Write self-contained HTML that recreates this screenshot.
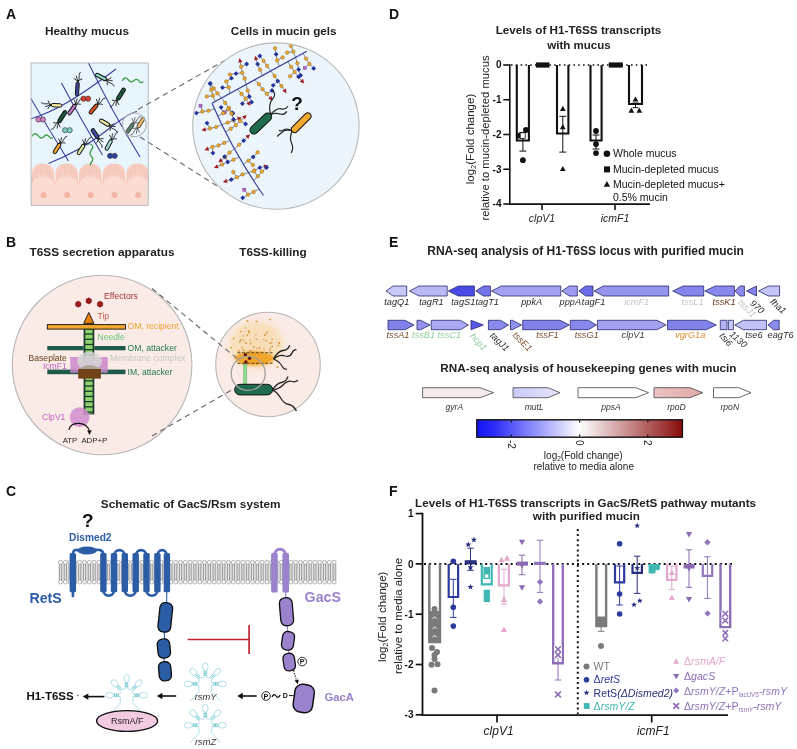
<!DOCTYPE html>
<html><head><meta charset="utf-8"><title>Figure</title>
<style>
html,body{margin:0;padding:0;background:#fff;}
svg{display:block;font-family:"Liberation Sans",sans-serif;filter:blur(0.45px);}
svg text{font-family:"Liberation Sans",sans-serif;}
</style></head>
<body>
<svg width="797" height="749" viewBox="0 0 797 749">
<rect x="0" y="0" width="797" height="749" fill="#ffffff"/>
<defs>
<linearGradient id="gbar" x1="0" x2="1" y1="0" y2="0"><stop offset="0" stop-color="#1515f5"/><stop offset="0.08" stop-color="#2a2af8"/><stop offset="0.5" stop-color="#ffffff"/><stop offset="1" stop-color="#8a0c0c"/></linearGradient>
<linearGradient id="gmut" x1="0" x2="1" y1="0" y2="0"><stop offset="0" stop-color="#c9c9f8"/><stop offset="1" stop-color="#e4e4fb"/></linearGradient>
<linearGradient id="grpo" x1="0" x2="1" y1="0" y2="0"><stop offset="0" stop-color="#ecc3c3"/><stop offset="1" stop-color="#e0a8a8"/></linearGradient>
</defs>
<text x="6" y="19" font-size="14" font-weight="bold" font-style="normal" fill="#111" text-anchor="start" >A</text>
<text x="6" y="247" font-size="14" font-weight="bold" font-style="normal" fill="#111" text-anchor="start" >B</text>
<text x="6" y="496" font-size="14" font-weight="bold" font-style="normal" fill="#111" text-anchor="start" >C</text>
<text x="389" y="19" font-size="14" font-weight="bold" font-style="normal" fill="#111" text-anchor="start" >D</text>
<text x="389" y="247" font-size="14" font-weight="bold" font-style="normal" fill="#111" text-anchor="start" >E</text>
<text x="389" y="496" font-size="14" font-weight="bold" font-style="normal" fill="#111" text-anchor="start" >F</text>
<g id="panel_a">
<text x="87" y="34.8" font-size="11.8" font-weight="bold" font-style="normal" fill="#222" text-anchor="middle" >Healthy mucus</text>
<text x="283.7" y="34.8" font-size="11.7" font-weight="bold" font-style="normal" fill="#222" text-anchor="middle" >Cells in mucin gels</text>
<clipPath id="cpA"><rect x="31" y="63" width="117.2" height="142.4"/></clipPath>
<rect x="31" y="63" width="117.2" height="142.4" fill="#e9f5fc" stroke="none" stroke-width="1" rx="0" />
<g clip-path="url(#cpA)"><rect x="31" y="176" width="117.2" height="30" fill="#fadcd2" stroke="none" stroke-width="1" rx="0" /><path d="M31.4,184 V176 Q31.4,163.4 43.0,163.4 Q54.6,163.4 54.6,176 V184 Z" fill="#f7d1c5"/><line x1="32.5" y1="173.6" x2="32.5" y2="184.6" stroke="#f0b9aa" stroke-width="0.55" /><line x1="34.6" y1="169.7" x2="34.6" y2="178.7" stroke="#f0b9aa" stroke-width="0.55" /><line x1="36.7" y1="166.9" x2="36.7" y2="177.9" stroke="#f0b9aa" stroke-width="0.55" /><line x1="38.8" y1="164.9" x2="38.8" y2="173.9" stroke="#f0b9aa" stroke-width="0.55" /><line x1="40.9" y1="163.9" x2="40.9" y2="174.9" stroke="#f0b9aa" stroke-width="0.55" /><line x1="43.0" y1="163.6" x2="43.0" y2="172.6" stroke="#f0b9aa" stroke-width="0.55" /><line x1="45.1" y1="163.9" x2="45.1" y2="174.9" stroke="#f0b9aa" stroke-width="0.55" /><line x1="47.2" y1="164.9" x2="47.2" y2="173.9" stroke="#f0b9aa" stroke-width="0.55" /><line x1="49.3" y1="166.9" x2="49.3" y2="177.9" stroke="#f0b9aa" stroke-width="0.55" /><line x1="51.4" y1="169.7" x2="51.4" y2="178.7" stroke="#f0b9aa" stroke-width="0.55" /><line x1="53.5" y1="173.6" x2="53.5" y2="184.6" stroke="#f0b9aa" stroke-width="0.55" /><path d="M31.2,187 V178 Q31.2,171 35.0,171 Q43.0,168 51.0,171 Q54.8,171 54.8,178 V187 Z" fill="#fadcd2" opacity="0.0"/><ellipse cx="43.0" cy="186" rx="11.3" ry="9.5" fill="#fadcd2" stroke="none" stroke-width="1" /><circle cx="43.5" cy="195" r="3" fill="#f3b6a6" stroke="none" stroke-width="1" /><path d="M55.050000000000004,184 V176 Q55.050000000000004,163.4 66.65,163.4 Q78.25,163.4 78.25,176 V184 Z" fill="#f7d1c5"/><line x1="56.2" y1="173.6" x2="56.2" y2="184.6" stroke="#f0b9aa" stroke-width="0.55" /><line x1="58.3" y1="169.7" x2="58.3" y2="178.7" stroke="#f0b9aa" stroke-width="0.55" /><line x1="60.4" y1="166.9" x2="60.4" y2="177.9" stroke="#f0b9aa" stroke-width="0.55" /><line x1="62.5" y1="164.9" x2="62.5" y2="173.9" stroke="#f0b9aa" stroke-width="0.55" /><line x1="64.6" y1="163.9" x2="64.6" y2="174.9" stroke="#f0b9aa" stroke-width="0.55" /><line x1="66.7" y1="163.6" x2="66.7" y2="172.6" stroke="#f0b9aa" stroke-width="0.55" /><line x1="68.8" y1="163.9" x2="68.8" y2="174.9" stroke="#f0b9aa" stroke-width="0.55" /><line x1="70.9" y1="164.9" x2="70.9" y2="173.9" stroke="#f0b9aa" stroke-width="0.55" /><line x1="73.0" y1="166.9" x2="73.0" y2="177.9" stroke="#f0b9aa" stroke-width="0.55" /><line x1="75.1" y1="169.7" x2="75.1" y2="178.7" stroke="#f0b9aa" stroke-width="0.55" /><line x1="77.2" y1="173.6" x2="77.2" y2="184.6" stroke="#f0b9aa" stroke-width="0.55" /><path d="M54.85000000000001,187 V178 Q54.85000000000001,171 58.650000000000006,171 Q66.65,168 74.65,171 Q78.45,171 78.45,178 V187 Z" fill="#fadcd2" opacity="0.0"/><ellipse cx="66.65" cy="186" rx="11.3" ry="9.5" fill="#fadcd2" stroke="none" stroke-width="1" /><circle cx="67.15" cy="195" r="3" fill="#f3b6a6" stroke="none" stroke-width="1" /><path d="M78.7,184 V176 Q78.7,163.4 90.3,163.4 Q101.89999999999999,163.4 101.89999999999999,176 V184 Z" fill="#f7d1c5"/><line x1="79.8" y1="173.6" x2="79.8" y2="184.6" stroke="#f0b9aa" stroke-width="0.55" /><line x1="81.9" y1="169.7" x2="81.9" y2="178.7" stroke="#f0b9aa" stroke-width="0.55" /><line x1="84.0" y1="166.9" x2="84.0" y2="177.9" stroke="#f0b9aa" stroke-width="0.55" /><line x1="86.1" y1="164.9" x2="86.1" y2="173.9" stroke="#f0b9aa" stroke-width="0.55" /><line x1="88.2" y1="163.9" x2="88.2" y2="174.9" stroke="#f0b9aa" stroke-width="0.55" /><line x1="90.3" y1="163.6" x2="90.3" y2="172.6" stroke="#f0b9aa" stroke-width="0.55" /><line x1="92.4" y1="163.9" x2="92.4" y2="174.9" stroke="#f0b9aa" stroke-width="0.55" /><line x1="94.5" y1="164.9" x2="94.5" y2="173.9" stroke="#f0b9aa" stroke-width="0.55" /><line x1="96.6" y1="166.9" x2="96.6" y2="177.9" stroke="#f0b9aa" stroke-width="0.55" /><line x1="98.7" y1="169.7" x2="98.7" y2="178.7" stroke="#f0b9aa" stroke-width="0.55" /><line x1="100.8" y1="173.6" x2="100.8" y2="184.6" stroke="#f0b9aa" stroke-width="0.55" /><path d="M78.5,187 V178 Q78.5,171 82.3,171 Q90.3,168 98.3,171 Q102.1,171 102.1,178 V187 Z" fill="#fadcd2" opacity="0.0"/><ellipse cx="90.3" cy="186" rx="11.3" ry="9.5" fill="#fadcd2" stroke="none" stroke-width="1" /><circle cx="90.8" cy="195" r="3" fill="#f3b6a6" stroke="none" stroke-width="1" /><path d="M102.35,184 V176 Q102.35,163.4 113.94999999999999,163.4 Q125.54999999999998,163.4 125.54999999999998,176 V184 Z" fill="#f7d1c5"/><line x1="103.4" y1="173.6" x2="103.4" y2="184.6" stroke="#f0b9aa" stroke-width="0.55" /><line x1="105.5" y1="169.7" x2="105.5" y2="178.7" stroke="#f0b9aa" stroke-width="0.55" /><line x1="107.6" y1="166.9" x2="107.6" y2="177.9" stroke="#f0b9aa" stroke-width="0.55" /><line x1="109.7" y1="164.9" x2="109.7" y2="173.9" stroke="#f0b9aa" stroke-width="0.55" /><line x1="111.8" y1="163.9" x2="111.8" y2="174.9" stroke="#f0b9aa" stroke-width="0.55" /><line x1="113.9" y1="163.6" x2="113.9" y2="172.6" stroke="#f0b9aa" stroke-width="0.55" /><line x1="116.0" y1="163.9" x2="116.0" y2="174.9" stroke="#f0b9aa" stroke-width="0.55" /><line x1="118.1" y1="164.9" x2="118.1" y2="173.9" stroke="#f0b9aa" stroke-width="0.55" /><line x1="120.2" y1="166.9" x2="120.2" y2="177.9" stroke="#f0b9aa" stroke-width="0.55" /><line x1="122.3" y1="169.7" x2="122.3" y2="178.7" stroke="#f0b9aa" stroke-width="0.55" /><line x1="124.4" y1="173.6" x2="124.4" y2="184.6" stroke="#f0b9aa" stroke-width="0.55" /><path d="M102.14999999999999,187 V178 Q102.14999999999999,171 105.94999999999999,171 Q113.94999999999999,168 121.94999999999999,171 Q125.74999999999999,171 125.74999999999999,178 V187 Z" fill="#fadcd2" opacity="0.0"/><ellipse cx="113.94999999999999" cy="186" rx="11.3" ry="9.5" fill="#fadcd2" stroke="none" stroke-width="1" /><circle cx="114.44999999999999" cy="195" r="3" fill="#f3b6a6" stroke="none" stroke-width="1" /><path d="M126.0,184 V176 Q126.0,163.4 137.6,163.4 Q149.2,163.4 149.2,176 V184 Z" fill="#f7d1c5"/><line x1="127.1" y1="173.6" x2="127.1" y2="184.6" stroke="#f0b9aa" stroke-width="0.55" /><line x1="129.2" y1="169.7" x2="129.2" y2="178.7" stroke="#f0b9aa" stroke-width="0.55" /><line x1="131.3" y1="166.9" x2="131.3" y2="177.9" stroke="#f0b9aa" stroke-width="0.55" /><line x1="133.4" y1="164.9" x2="133.4" y2="173.9" stroke="#f0b9aa" stroke-width="0.55" /><line x1="135.5" y1="163.9" x2="135.5" y2="174.9" stroke="#f0b9aa" stroke-width="0.55" /><line x1="137.6" y1="163.6" x2="137.6" y2="172.6" stroke="#f0b9aa" stroke-width="0.55" /><line x1="139.7" y1="163.9" x2="139.7" y2="174.9" stroke="#f0b9aa" stroke-width="0.55" /><line x1="141.8" y1="164.9" x2="141.8" y2="173.9" stroke="#f0b9aa" stroke-width="0.55" /><line x1="143.9" y1="166.9" x2="143.9" y2="177.9" stroke="#f0b9aa" stroke-width="0.55" /><line x1="146.0" y1="169.7" x2="146.0" y2="178.7" stroke="#f0b9aa" stroke-width="0.55" /><line x1="148.1" y1="173.6" x2="148.1" y2="184.6" stroke="#f0b9aa" stroke-width="0.55" /><path d="M125.8,187 V178 Q125.8,171 129.6,171 Q137.6,168 145.6,171 Q149.4,171 149.4,178 V187 Z" fill="#fadcd2" opacity="0.0"/><ellipse cx="137.6" cy="186" rx="11.3" ry="9.5" fill="#fadcd2" stroke="none" stroke-width="1" /><circle cx="138.1" cy="195" r="3" fill="#f3b6a6" stroke="none" stroke-width="1" /><line x1="54.85000000000001" y1="173" x2="54.85000000000001" y2="181" stroke="#fff" stroke-width="0.8" /><line x1="78.5" y1="173" x2="78.5" y2="181" stroke="#fff" stroke-width="0.8" /><line x1="102.14999999999999" y1="173" x2="102.14999999999999" y2="181" stroke="#fff" stroke-width="0.8" /><line x1="125.8" y1="173" x2="125.8" y2="181" stroke="#fff" stroke-width="0.8" /><path d="M30,119 C55,112 80,96 116,69" fill="none" stroke="#3b3f9e" stroke-width="1.1" /><path d="M88,62 Q110,108 140,157" fill="none" stroke="#3b3f9e" stroke-width="1.1" /><path d="M61.5,83 Q80,118 102.5,155" fill="none" stroke="#3b3f9e" stroke-width="1.1" /><path d="M30,97 Q48,128 68.5,161" fill="none" stroke="#3b3f9e" stroke-width="1.1" /><path d="M48.5,163.5 Q82,150 106,131 T137,111.5" fill="none" stroke="#3b3f9e" stroke-width="1.1" /><path d="M122.5,80.5 Q125,76 128,79.5 Q131,83.5 134,80.5 Q137,78 139,81 Q140.5,83.5 143,82 " fill="none" stroke="#3f9b46" stroke-width="1.3" stroke-linecap="round"/><path d="M32,136 Q35,131.5 38,135.5 Q41,140 44,136.5 Q46.5,133.5 49,136.5 Q50.5,139 52.5,138 " fill="none" stroke="#3f9b46" stroke-width="1.3" stroke-linecap="round"/><path d="M90.5,144 Q94.5,146.5 91.5,150 Q88.5,153.5 91.5,156.5 Q94,159 91.5,162 Q90,164 90.5,165 " fill="none" stroke="#3f9b46" stroke-width="1.3" stroke-linecap="round"/><path d="M77.8,82.0 Q76.4,79.3 73.8,78.3" fill="none" stroke="#111" stroke-width="0.85" /><path d="M77.8,82.0 Q79.6,79.6 82.3,78.9" fill="none" stroke="#111" stroke-width="0.85" /><path d="M77.8,82.0 Q77.3,78.5 76.1,75.7" fill="none" stroke="#111" stroke-width="0.85" /><path d="M77.8,82.0 Q79.7,79.4 79.1,76.7 Q78.6,74.0 80.6,71.9" fill="none" stroke="#111" stroke-width="0.85" /><rect x="70.30" y="87.40" width="14" height="3.2" rx="1.6" fill="#3b4a9c" stroke="#111" stroke-width="0.95" transform="rotate(-86 77.3 89)"/><path d="M106.3,79.8 Q109.3,79.6 111.4,77.7" fill="none" stroke="#111" stroke-width="0.85" /><path d="M106.3,79.8 Q107.8,82.4 107.3,85.2" fill="none" stroke="#111" stroke-width="0.85" /><path d="M106.3,79.8 Q109.7,80.8 112.7,80.8" fill="none" stroke="#111" stroke-width="0.85" /><path d="M106.3,79.8 Q107.9,82.6 110.6,83.2 Q113.3,83.8 114.4,86.5" fill="none" stroke="#111" stroke-width="0.85" /><rect x="95.00" y="75.30" width="12" height="3.4" rx="1.7" fill="#8fd6c2" stroke="#111" stroke-width="0.95" transform="rotate(28 101 77)"/><path d="M51.3,105.0 Q48.6,106.5 47.6,109.1" fill="none" stroke="#111" stroke-width="0.85" /><path d="M51.3,105.0 Q48.8,103.3 48.0,100.6" fill="none" stroke="#111" stroke-width="0.85" /><path d="M51.3,105.0 Q47.7,105.6 45.0,106.8" fill="none" stroke="#111" stroke-width="0.85" /><path d="M51.3,105.0 Q48.6,103.2 45.9,103.8 Q43.2,104.4 41.1,102.4" fill="none" stroke="#111" stroke-width="0.85" /><rect x="51.25" y="103.60" width="10.5" height="3.4" rx="1.7" fill="#f1e9a3" stroke="#111" stroke-width="0.95" transform="rotate(3 56.5 105.3)"/><path d="M75.4,104.7 Q75.6,101.7 73.9,99.4" fill="none" stroke="#111" stroke-width="0.85" /><path d="M75.4,104.7 Q78.2,103.5 80.9,104.3" fill="none" stroke="#111" stroke-width="0.85" /><path d="M75.4,104.7 Q76.8,101.4 77.2,98.4" fill="none" stroke="#111" stroke-width="0.85" /><path d="M75.4,104.7 Q78.4,103.4 79.3,100.8 Q80.2,98.2 83.1,97.5" fill="none" stroke="#111" stroke-width="0.85" /><rect x="66.00" y="107.90" width="12" height="3.4" rx="1.7" fill="#c07cc2" stroke="#111" stroke-width="0.95" transform="rotate(-55 72 109.6)"/><path d="M97.4,104.4 Q97.8,101.4 96.3,99.0" fill="none" stroke="#111" stroke-width="0.85" /><path d="M97.4,104.4 Q100.2,103.5 102.9,104.5" fill="none" stroke="#111" stroke-width="0.85" /><path d="M97.4,104.4 Q99.0,101.2 99.7,98.3" fill="none" stroke="#111" stroke-width="0.85" /><path d="M97.4,104.4 Q100.4,103.4 101.6,100.9 Q102.7,98.3 105.6,97.9" fill="none" stroke="#111" stroke-width="0.85" /><rect x="87.50" y="107.30" width="12" height="3.4" rx="1.7" fill="#d9561f" stroke="#111" stroke-width="0.95" transform="rotate(-50 93.5 109)"/><path d="M117.3,99.7 Q117.3,102.7 119.0,104.9" fill="none" stroke="#111" stroke-width="0.85" /><path d="M117.3,99.7 Q114.6,100.9 111.9,100.2" fill="none" stroke="#111" stroke-width="0.85" /><path d="M117.3,99.7 Q116.0,103.0 115.8,106.0" fill="none" stroke="#111" stroke-width="0.85" /><path d="M117.3,99.7 Q114.4,101.0 113.6,103.7 Q112.7,106.3 109.9,107.1" fill="none" stroke="#111" stroke-width="0.85" /><rect x="114.25" y="92.20" width="13.5" height="3.6" rx="1.8" fill="#1d5a3b" stroke="#111" stroke-width="0.95" transform="rotate(-57 121 94)"/><path d="M58.6,122.2 Q58.6,125.2 60.3,127.4" fill="none" stroke="#111" stroke-width="0.85" /><path d="M58.6,122.2 Q55.9,123.4 53.2,122.7" fill="none" stroke="#111" stroke-width="0.85" /><path d="M58.6,122.2 Q57.3,125.5 57.1,128.5" fill="none" stroke="#111" stroke-width="0.85" /><path d="M58.6,122.2 Q55.7,123.5 54.9,126.2 Q54.0,128.8 51.2,129.6" fill="none" stroke="#111" stroke-width="0.85" /><rect x="55.55" y="114.70" width="13.5" height="3.6" rx="1.8" fill="#1d5a3b" stroke="#111" stroke-width="0.95" transform="rotate(-57 62.3 116.5)"/><path d="M109.3,125.3 Q112.3,125.2 114.4,123.4" fill="none" stroke="#111" stroke-width="0.85" /><path d="M109.3,125.3 Q110.7,128.0 110.1,130.8" fill="none" stroke="#111" stroke-width="0.85" /><path d="M109.3,125.3 Q112.7,126.5 115.6,126.6" fill="none" stroke="#111" stroke-width="0.85" /><path d="M109.3,125.3 Q110.8,128.2 113.5,128.9 Q116.2,129.6 117.1,132.3" fill="none" stroke="#111" stroke-width="0.85" /><rect x="99.00" y="120.90" width="11" height="3.4" rx="1.7" fill="#f1e9a3" stroke="#111" stroke-width="0.95" transform="rotate(30 104.5 122.6)"/><path d="M98.1,138.1 Q100.8,139.3 103.6,138.5" fill="none" stroke="#111" stroke-width="0.85" /><path d="M98.1,138.1 Q98.2,141.1 96.4,143.3" fill="none" stroke="#111" stroke-width="0.85" /><path d="M98.1,138.1 Q100.6,140.5 103.3,142.0" fill="none" stroke="#111" stroke-width="0.85" /><path d="M98.1,138.1 Q98.2,141.3 100.3,143.1 Q102.4,144.9 102.1,147.8" fill="none" stroke="#111" stroke-width="0.85" /><rect x="89.50" y="131.70" width="11" height="3.6" rx="1.8" fill="#3b4a9c" stroke="#111" stroke-width="0.95" transform="rotate(56 95 133.5)"/><path d="M60.0,143.6 Q60.0,140.6 58.2,138.4" fill="none" stroke="#111" stroke-width="0.85" /><path d="M60.0,143.6 Q62.8,142.3 65.5,143.0" fill="none" stroke="#111" stroke-width="0.85" /><path d="M60.0,143.6 Q61.3,140.3 61.5,137.3" fill="none" stroke="#111" stroke-width="0.85" /><path d="M60.0,143.6 Q62.9,142.2 63.7,139.5 Q64.5,136.9 67.3,136.0" fill="none" stroke="#111" stroke-width="0.85" /><rect x="51.25" y="146.80" width="11.5" height="3.4" rx="1.7" fill="#f0a72e" stroke="#111" stroke-width="0.95" transform="rotate(-58 57 148.5)"/><path d="M84.0,144.6 Q84.0,141.6 82.2,139.4" fill="none" stroke="#111" stroke-width="0.85" /><path d="M84.0,144.6 Q86.8,143.3 89.5,144.0" fill="none" stroke="#111" stroke-width="0.85" /><path d="M84.0,144.6 Q85.3,141.3 85.5,138.3" fill="none" stroke="#111" stroke-width="0.85" /><path d="M84.0,144.6 Q86.9,143.2 87.7,140.5 Q88.5,137.9 91.3,137.0" fill="none" stroke="#111" stroke-width="0.85" /><rect x="75.25" y="147.80" width="11.5" height="3.4" rx="1.7" fill="#d9e0a2" stroke="#111" stroke-width="0.95" transform="rotate(-58 81 149.5)"/><path d="M111.4,139.9 Q111.2,136.9 109.2,134.9" fill="none" stroke="#111" stroke-width="0.85" /><path d="M111.4,139.9 Q114.0,138.4 116.8,138.9" fill="none" stroke="#111" stroke-width="0.85" /><path d="M111.4,139.9 Q112.4,136.5 112.4,133.5" fill="none" stroke="#111" stroke-width="0.85" /><path d="M111.4,139.9 Q114.2,138.3 114.8,135.6 Q115.4,132.9 118.1,131.8" fill="none" stroke="#111" stroke-width="0.85" /><rect x="102.95" y="143.30" width="11.5" height="3.4" rx="1.7" fill="#9fd9c8" stroke="#111" stroke-width="0.95" transform="rotate(-62 108.7 145)"/><path d="M133.3,123.5 Q133.5,120.5 131.8,118.2" fill="none" stroke="#111" stroke-width="0.85" /><path d="M133.3,123.5 Q136.1,122.3 138.8,123.1" fill="none" stroke="#111" stroke-width="0.85" /><path d="M133.3,123.5 Q134.7,120.2 135.1,117.2" fill="none" stroke="#111" stroke-width="0.85" /><path d="M133.3,123.5 Q136.3,122.2 137.2,119.6 Q138.1,117.0 140.9,116.3" fill="none" stroke="#111" stroke-width="0.85" /><rect x="124.25" y="126.50" width="11.5" height="3.4" rx="1.7" fill="#1d5a3b" stroke="#111" stroke-width="0.95" transform="rotate(-55 130 128.2)"/><path d="M137.8,127.5 Q137.8,130.5 139.6,132.7" fill="none" stroke="#111" stroke-width="0.85" /><path d="M137.8,127.5 Q135.0,128.8 132.3,128.1" fill="none" stroke="#111" stroke-width="0.85" /><path d="M137.8,127.5 Q136.5,130.8 136.3,133.8" fill="none" stroke="#111" stroke-width="0.85" /><path d="M137.8,127.5 Q134.9,128.9 134.1,131.6 Q133.3,134.2 130.5,135.1" fill="none" stroke="#111" stroke-width="0.85" /><rect x="135.05" y="121.00" width="11.5" height="3.2" rx="1.6" fill="#f0a72e" stroke="#111" stroke-width="0.95" transform="rotate(-58 140.8 122.6)"/><circle cx="83.5" cy="98.7" r="2.6" fill="#d0402f" stroke="#333" stroke-width="0.6" /><circle cx="88.1" cy="98.7" r="2.6" fill="#d0402f" stroke="#333" stroke-width="0.6" /><circle cx="38.4" cy="119.5" r="2.6" fill="#d27fc3" stroke="#333" stroke-width="0.6" /><circle cx="43.00000000000001" cy="119.5" r="2.6" fill="#d27fc3" stroke="#333" stroke-width="0.6" /><circle cx="65.10000000000001" cy="130.2" r="2.6" fill="#7fd0c8" stroke="#333" stroke-width="0.6" /><circle cx="69.7" cy="130.2" r="2.6" fill="#7fd0c8" stroke="#333" stroke-width="0.6" /><circle cx="110.10000000000001" cy="155.8" r="2.6" fill="#3040a0" stroke="#333" stroke-width="0.6" /><circle cx="114.7" cy="155.8" r="2.6" fill="#3040a0" stroke="#333" stroke-width="0.6" /></g>
<rect x="31" y="63" width="117.2" height="142.4" fill="none" stroke="#b4bcc0" stroke-width="1" rx="0" />
<circle cx="134.3" cy="124.8" r="11.8" fill="rgba(255,255,255,0.25)" stroke="#b3b3b3" stroke-width="1.1" />
<line x1="138" y1="109.5" x2="243" y2="50.3" stroke="#666" stroke-width="1.1" stroke-dasharray="5.5 4"/>
<line x1="140" y1="137" x2="226" y2="191.7" stroke="#666" stroke-width="1.1" stroke-dasharray="5.5 4"/>
<circle cx="275.9" cy="126.1" r="83.2" fill="#ebf5fb" stroke="#b9b9b9" stroke-width="1.1" />
<clipPath id="cpA2"><circle cx="275.9" cy="126.1" r="82.6"/></clipPath>
<g clip-path="url(#cpA2)"><line x1="214.8" y1="101.6" x2="213.0" y2="95.7" stroke="#333" stroke-width="0.55" /><line x1="213.0" y1="95.7" x2="206.8" y2="96.5" stroke="#333" stroke-width="0.55" /><line x1="213.0" y1="95.7" x2="211.3" y2="89.8" stroke="#333" stroke-width="0.55" /><line x1="211.3" y1="89.8" x2="210.1" y2="83.7" stroke="#333" stroke-width="0.55" /><line x1="221.5" y1="98.0" x2="225.2" y2="102.9" stroke="#333" stroke-width="0.55" /><line x1="225.2" y1="102.9" x2="228.9" y2="107.9" stroke="#333" stroke-width="0.55" /><line x1="228.9" y1="107.9" x2="224.7" y2="112.4" stroke="#333" stroke-width="0.55" /><line x1="228.9" y1="107.9" x2="232.5" y2="113.0" stroke="#333" stroke-width="0.55" /><line x1="221.5" y1="98.0" x2="217.4" y2="93.3" stroke="#333" stroke-width="0.55" /><line x1="217.4" y1="93.3" x2="213.7" y2="88.4" stroke="#333" stroke-width="0.55" /><line x1="213.7" y1="88.4" x2="210.2" y2="83.3" stroke="#333" stroke-width="0.55" /><line x1="230.0" y1="93.3" x2="228.7" y2="87.3" stroke="#333" stroke-width="0.55" /><line x1="228.7" y1="87.3" x2="222.5" y2="87.6" stroke="#333" stroke-width="0.55" /><line x1="228.7" y1="87.3" x2="226.3" y2="81.5" stroke="#333" stroke-width="0.55" /><line x1="226.3" y1="81.5" x2="231.5" y2="78.2" stroke="#333" stroke-width="0.55" /><line x1="237.6" y1="89.2" x2="241.5" y2="93.9" stroke="#333" stroke-width="0.55" /><line x1="241.5" y1="93.9" x2="245.7" y2="98.5" stroke="#333" stroke-width="0.55" /><line x1="245.7" y1="98.5" x2="242.4" y2="103.7" stroke="#333" stroke-width="0.55" /><line x1="245.7" y1="98.5" x2="249.0" y2="103.8" stroke="#333" stroke-width="0.55" /><line x1="246.1" y1="84.5" x2="244.6" y2="78.5" stroke="#333" stroke-width="0.55" /><line x1="244.6" y1="78.5" x2="242.2" y2="72.8" stroke="#333" stroke-width="0.55" /><line x1="242.2" y1="72.8" x2="236.0" y2="73.6" stroke="#333" stroke-width="0.55" /><line x1="236.0" y1="73.6" x2="229.9" y2="74.5" stroke="#333" stroke-width="0.55" /><line x1="242.2" y1="72.8" x2="241.1" y2="66.7" stroke="#333" stroke-width="0.55" /><line x1="241.1" y1="66.7" x2="246.7" y2="64.0" stroke="#333" stroke-width="0.55" /><line x1="241.1" y1="66.7" x2="240.0" y2="60.6" stroke="#333" stroke-width="0.55" /><line x1="246.1" y1="84.5" x2="247.7" y2="90.5" stroke="#333" stroke-width="0.55" /><line x1="247.7" y1="90.5" x2="249.3" y2="96.5" stroke="#333" stroke-width="0.55" /><line x1="249.3" y1="96.5" x2="251.6" y2="102.2" stroke="#333" stroke-width="0.55" /><line x1="254.7" y1="79.8" x2="258.9" y2="84.3" stroke="#333" stroke-width="0.55" /><line x1="258.9" y1="84.3" x2="262.6" y2="89.3" stroke="#333" stroke-width="0.55" /><line x1="262.6" y1="89.3" x2="266.8" y2="93.8" stroke="#333" stroke-width="0.55" /><line x1="266.8" y1="93.8" x2="272.0" y2="90.5" stroke="#333" stroke-width="0.55" /><line x1="266.8" y1="93.8" x2="270.9" y2="98.5" stroke="#333" stroke-width="0.55" /><line x1="262.2" y1="75.6" x2="260.1" y2="69.8" stroke="#333" stroke-width="0.55" /><line x1="260.1" y1="69.8" x2="257.6" y2="64.1" stroke="#333" stroke-width="0.55" /><line x1="257.6" y1="64.1" x2="255.8" y2="58.2" stroke="#333" stroke-width="0.55" /><line x1="270.8" y1="71.0" x2="274.6" y2="75.9" stroke="#333" stroke-width="0.55" /><line x1="274.6" y1="75.9" x2="277.8" y2="81.1" stroke="#333" stroke-width="0.55" /><line x1="277.8" y1="81.1" x2="273.2" y2="85.3" stroke="#333" stroke-width="0.55" /><line x1="277.8" y1="81.1" x2="281.5" y2="86.1" stroke="#333" stroke-width="0.55" /><line x1="281.5" y1="86.1" x2="285.1" y2="91.2" stroke="#333" stroke-width="0.55" /><line x1="270.8" y1="71.0" x2="267.1" y2="66.0" stroke="#333" stroke-width="0.55" /><line x1="267.1" y1="66.0" x2="263.6" y2="60.9" stroke="#333" stroke-width="0.55" /><line x1="263.6" y1="60.9" x2="259.8" y2="56.0" stroke="#333" stroke-width="0.55" /><line x1="279.3" y1="66.3" x2="277.2" y2="60.4" stroke="#333" stroke-width="0.55" /><line x1="277.2" y1="60.4" x2="282.6" y2="57.4" stroke="#333" stroke-width="0.55" /><line x1="277.2" y1="60.4" x2="276.1" y2="54.3" stroke="#333" stroke-width="0.55" /><line x1="276.1" y1="54.3" x2="275.1" y2="48.2" stroke="#333" stroke-width="0.55" /><line x1="287.8" y1="61.6" x2="291.1" y2="66.9" stroke="#333" stroke-width="0.55" /><line x1="291.1" y1="66.9" x2="294.6" y2="72.0" stroke="#333" stroke-width="0.55" /><line x1="294.6" y1="72.0" x2="290.1" y2="76.3" stroke="#333" stroke-width="0.55" /><line x1="294.6" y1="72.0" x2="298.5" y2="76.8" stroke="#333" stroke-width="0.55" /><line x1="298.5" y1="76.8" x2="302.5" y2="81.5" stroke="#333" stroke-width="0.55" /><line x1="295.4" y1="57.4" x2="293.3" y2="51.6" stroke="#333" stroke-width="0.55" /><line x1="293.3" y1="51.6" x2="287.2" y2="52.6" stroke="#333" stroke-width="0.55" /><line x1="293.3" y1="51.6" x2="290.9" y2="45.9" stroke="#333" stroke-width="0.55" /><line x1="290.9" y1="45.9" x2="289.5" y2="39.8" stroke="#333" stroke-width="0.55" /><line x1="295.4" y1="57.4" x2="297.4" y2="63.3" stroke="#333" stroke-width="0.55" /><line x1="297.4" y1="63.3" x2="298.6" y2="69.4" stroke="#333" stroke-width="0.55" /><line x1="298.6" y1="69.4" x2="300.6" y2="75.3" stroke="#333" stroke-width="0.55" /><line x1="303.0" y1="53.3" x2="306.1" y2="58.6" stroke="#333" stroke-width="0.55" /><line x1="306.1" y1="58.6" x2="309.4" y2="63.9" stroke="#333" stroke-width="0.55" /><line x1="309.4" y1="63.9" x2="304.8" y2="68.0" stroke="#333" stroke-width="0.55" /><line x1="309.4" y1="63.9" x2="313.7" y2="68.4" stroke="#333" stroke-width="0.55" /><line x1="214.4" y1="108.8" x2="208.5" y2="110.7" stroke="#333" stroke-width="0.55" /><line x1="208.5" y1="110.7" x2="202.4" y2="111.6" stroke="#333" stroke-width="0.55" /><line x1="202.4" y1="111.6" x2="200.5" y2="105.7" stroke="#333" stroke-width="0.55" /><line x1="202.4" y1="111.6" x2="196.4" y2="113.1" stroke="#333" stroke-width="0.55" /><line x1="217.8" y1="116.3" x2="223.2" y2="113.2" stroke="#333" stroke-width="0.55" /><line x1="223.2" y1="113.2" x2="221.1" y2="107.3" stroke="#333" stroke-width="0.55" /><line x1="223.2" y1="113.2" x2="228.1" y2="109.3" stroke="#333" stroke-width="0.55" /><line x1="228.1" y1="109.3" x2="232.7" y2="113.4" stroke="#333" stroke-width="0.55" /><line x1="221.8" y1="124.7" x2="216.1" y2="127.0" stroke="#333" stroke-width="0.55" /><line x1="216.1" y1="127.0" x2="210.0" y2="128.5" stroke="#333" stroke-width="0.55" /><line x1="210.0" y1="128.5" x2="207.0" y2="123.1" stroke="#333" stroke-width="0.55" /><line x1="210.0" y1="128.5" x2="204.0" y2="129.8" stroke="#333" stroke-width="0.55" /><line x1="221.8" y1="124.7" x2="227.7" y2="122.6" stroke="#333" stroke-width="0.55" /><line x1="227.7" y1="122.6" x2="233.4" y2="120.3" stroke="#333" stroke-width="0.55" /><line x1="233.4" y1="120.3" x2="239.3" y2="118.4" stroke="#333" stroke-width="0.55" /><line x1="225.5" y1="132.1" x2="230.7" y2="128.8" stroke="#333" stroke-width="0.55" /><line x1="230.7" y1="128.8" x2="235.8" y2="125.2" stroke="#333" stroke-width="0.55" /><line x1="235.8" y1="125.2" x2="233.6" y2="119.4" stroke="#333" stroke-width="0.55" /><line x1="233.6" y1="119.4" x2="231.5" y2="113.6" stroke="#333" stroke-width="0.55" /><line x1="235.8" y1="125.2" x2="240.2" y2="120.9" stroke="#333" stroke-width="0.55" /><line x1="240.2" y1="120.9" x2="245.6" y2="124.0" stroke="#333" stroke-width="0.55" /><line x1="240.2" y1="120.9" x2="244.8" y2="116.7" stroke="#333" stroke-width="0.55" /><line x1="229.8" y1="140.4" x2="224.2" y2="142.9" stroke="#333" stroke-width="0.55" /><line x1="224.2" y1="142.9" x2="218.5" y2="145.4" stroke="#333" stroke-width="0.55" /><line x1="218.5" y1="145.4" x2="212.5" y2="146.9" stroke="#333" stroke-width="0.55" /><line x1="212.5" y1="146.9" x2="212.9" y2="153.1" stroke="#333" stroke-width="0.55" /><line x1="212.5" y1="146.9" x2="206.8" y2="149.3" stroke="#333" stroke-width="0.55" /><line x1="234.4" y1="148.8" x2="239.1" y2="144.7" stroke="#333" stroke-width="0.55" /><line x1="239.1" y1="144.7" x2="243.7" y2="140.6" stroke="#333" stroke-width="0.55" /><line x1="243.7" y1="140.6" x2="248.1" y2="136.2" stroke="#333" stroke-width="0.55" /><line x1="234.4" y1="148.8" x2="229.5" y2="152.6" stroke="#333" stroke-width="0.55" /><line x1="229.5" y1="152.6" x2="225.2" y2="157.0" stroke="#333" stroke-width="0.55" /><line x1="225.2" y1="157.0" x2="220.4" y2="160.9" stroke="#333" stroke-width="0.55" /><line x1="239.1" y1="157.1" x2="233.5" y2="159.7" stroke="#333" stroke-width="0.55" /><line x1="233.5" y1="159.7" x2="227.7" y2="162.0" stroke="#333" stroke-width="0.55" /><line x1="227.7" y1="162.0" x2="224.5" y2="156.7" stroke="#333" stroke-width="0.55" /><line x1="227.7" y1="162.0" x2="222.0" y2="164.5" stroke="#333" stroke-width="0.55" /><line x1="222.0" y1="164.5" x2="216.3" y2="166.9" stroke="#333" stroke-width="0.55" /><line x1="243.4" y1="164.4" x2="248.4" y2="160.7" stroke="#333" stroke-width="0.55" /><line x1="248.4" y1="160.7" x2="252.9" y2="165.0" stroke="#333" stroke-width="0.55" /><line x1="248.4" y1="160.7" x2="253.2" y2="156.9" stroke="#333" stroke-width="0.55" /><line x1="253.2" y1="156.9" x2="257.6" y2="152.4" stroke="#333" stroke-width="0.55" /><line x1="248.5" y1="172.7" x2="242.5" y2="174.4" stroke="#333" stroke-width="0.55" /><line x1="242.5" y1="174.4" x2="237.0" y2="177.2" stroke="#333" stroke-width="0.55" /><line x1="237.0" y1="177.2" x2="233.3" y2="172.1" stroke="#333" stroke-width="0.55" /><line x1="237.0" y1="177.2" x2="231.3" y2="179.6" stroke="#333" stroke-width="0.55" /><line x1="231.3" y1="179.6" x2="225.3" y2="181.4" stroke="#333" stroke-width="0.55" /><line x1="248.5" y1="172.7" x2="254.3" y2="170.5" stroke="#333" stroke-width="0.55" /><line x1="254.3" y1="170.5" x2="259.8" y2="167.7" stroke="#333" stroke-width="0.55" /><line x1="259.8" y1="167.7" x2="265.8" y2="166.1" stroke="#333" stroke-width="0.55" /><line x1="253.7" y1="180.9" x2="257.8" y2="176.2" stroke="#333" stroke-width="0.55" /><line x1="257.8" y1="176.2" x2="253.9" y2="171.4" stroke="#333" stroke-width="0.55" /><line x1="257.8" y1="176.2" x2="261.9" y2="171.6" stroke="#333" stroke-width="0.55" /><line x1="261.9" y1="171.6" x2="266.6" y2="167.5" stroke="#333" stroke-width="0.55" /><line x1="259.1" y1="189.1" x2="253.6" y2="191.9" stroke="#333" stroke-width="0.55" /><line x1="253.6" y1="191.9" x2="248.1" y2="194.7" stroke="#333" stroke-width="0.55" /><line x1="248.1" y1="194.7" x2="244.3" y2="189.7" stroke="#333" stroke-width="0.55" /><line x1="248.1" y1="194.7" x2="242.7" y2="197.8" stroke="#333" stroke-width="0.55" /><circle cx="213.0" cy="95.7" r="1.8" fill="#f0a62c" stroke="#6b4e0e" stroke-width="0.35" /><circle cx="206.8" cy="96.5" r="1.8" fill="#f0a62c" stroke="#6b4e0e" stroke-width="0.35" /><circle cx="211.3" cy="89.8" r="1.8" fill="#f0a62c" stroke="#6b4e0e" stroke-width="0.35" /><rect x="208.4" y="82.0" width="3.4" height="3.4" fill="#26339a" transform="rotate(45 210.1 83.7)"/><circle cx="225.2" cy="102.9" r="1.8" fill="#f0a62c" stroke="#6b4e0e" stroke-width="0.35" /><circle cx="228.9" cy="107.9" r="1.8" fill="#f0a62c" stroke="#6b4e0e" stroke-width="0.35" /><rect x="223.1" y="110.8" width="3.2" height="3.2" fill="#b565c4" stroke="#5a2a6a" stroke-width="0.3"/><rect x="230.8" y="111.3" width="3.4" height="3.4" fill="#26339a" transform="rotate(45 232.5 113.0)"/><circle cx="217.4" cy="93.3" r="1.8" fill="#f0a62c" stroke="#6b4e0e" stroke-width="0.35" /><circle cx="213.7" cy="88.4" r="1.8" fill="#f0a62c" stroke="#6b4e0e" stroke-width="0.35" /><rect x="208.5" y="81.6" width="3.4" height="3.4" fill="#26339a" transform="rotate(45 210.2 83.3)"/><circle cx="228.7" cy="87.3" r="1.8" fill="#f0a62c" stroke="#6b4e0e" stroke-width="0.35" /><rect x="220.8" y="85.9" width="3.4" height="3.4" fill="#26339a" transform="rotate(45 222.5 87.6)"/><circle cx="226.3" cy="81.5" r="1.8" fill="#f0a62c" stroke="#6b4e0e" stroke-width="0.35" /><rect x="229.8" y="76.5" width="3.4" height="3.4" fill="#26339a" transform="rotate(45 231.5 78.2)"/><circle cx="241.5" cy="93.9" r="1.8" fill="#f0a62c" stroke="#6b4e0e" stroke-width="0.35" /><circle cx="245.7" cy="98.5" r="1.8" fill="#f0a62c" stroke="#6b4e0e" stroke-width="0.35" /><rect x="240.7" y="102.0" width="3.4" height="3.4" fill="#26339a" transform="rotate(45 242.4 103.7)"/><polygon points="0,-2.6 2.2,1.7 -2.2,1.7" fill="#a31f24" transform="translate(249.0 103.8) rotate(148)"/><circle cx="244.6" cy="78.5" r="1.8" fill="#f0a62c" stroke="#6b4e0e" stroke-width="0.35" /><circle cx="242.2" cy="72.8" r="1.8" fill="#f0a62c" stroke="#6b4e0e" stroke-width="0.35" /><rect x="234.3" y="71.9" width="3.4" height="3.4" fill="#26339a" transform="rotate(45 236.0 73.6)"/><circle cx="229.9" cy="74.5" r="1.8" fill="#f0a62c" stroke="#6b4e0e" stroke-width="0.35" /><circle cx="241.1" cy="66.7" r="1.8" fill="#f0a62c" stroke="#6b4e0e" stroke-width="0.35" /><rect x="245.0" y="62.3" width="3.4" height="3.4" fill="#26339a" transform="rotate(45 246.7 64.0)"/><polygon points="0,-2.6 2.2,1.7 -2.2,1.7" fill="#a31f24" transform="translate(240.0 60.6) rotate(-10)"/><circle cx="247.7" cy="90.5" r="1.8" fill="#f0a62c" stroke="#6b4e0e" stroke-width="0.35" /><rect x="247.6" y="94.8" width="3.4" height="3.4" fill="#26339a" transform="rotate(45 249.3 96.5)"/><rect x="249.9" y="100.5" width="3.4" height="3.4" fill="#26339a" transform="rotate(45 251.6 102.2)"/><circle cx="258.9" cy="84.3" r="1.8" fill="#f0a62c" stroke="#6b4e0e" stroke-width="0.35" /><circle cx="262.6" cy="89.3" r="1.8" fill="#f0a62c" stroke="#6b4e0e" stroke-width="0.35" /><circle cx="266.8" cy="93.8" r="1.8" fill="#f0a62c" stroke="#6b4e0e" stroke-width="0.35" /><rect x="270.3" y="88.8" width="3.4" height="3.4" fill="#26339a" transform="rotate(45 272.0 90.5)"/><polygon points="0,-2.6 2.2,1.7 -2.2,1.7" fill="#a31f24" transform="translate(270.9 98.5) rotate(139)"/><circle cx="260.1" cy="69.8" r="1.8" fill="#f0a62c" stroke="#6b4e0e" stroke-width="0.35" /><rect x="255.9" y="62.4" width="3.4" height="3.4" fill="#26339a" transform="rotate(45 257.6 64.1)"/><polygon points="0,-2.6 2.2,1.7 -2.2,1.7" fill="#a31f24" transform="translate(255.8 58.2) rotate(-17)"/><circle cx="274.6" cy="75.9" r="1.8" fill="#f0a62c" stroke="#6b4e0e" stroke-width="0.35" /><rect x="276.1" y="79.4" width="3.4" height="3.4" fill="#26339a" transform="rotate(45 277.8 81.1)"/><rect x="271.5" y="83.6" width="3.4" height="3.4" fill="#26339a" transform="rotate(45 273.2 85.3)"/><circle cx="281.5" cy="86.1" r="1.8" fill="#f0a62c" stroke="#6b4e0e" stroke-width="0.35" /><polygon points="0,-2.6 2.2,1.7 -2.2,1.7" fill="#a31f24" transform="translate(285.1 91.2) rotate(145)"/><circle cx="267.1" cy="66.0" r="1.8" fill="#f0a62c" stroke="#6b4e0e" stroke-width="0.35" /><circle cx="263.6" cy="60.9" r="1.8" fill="#f0a62c" stroke="#6b4e0e" stroke-width="0.35" /><rect x="258.1" y="54.3" width="3.4" height="3.4" fill="#26339a" transform="rotate(45 259.8 56.0)"/><circle cx="277.2" cy="60.4" r="1.8" fill="#f0a62c" stroke="#6b4e0e" stroke-width="0.35" /><circle cx="282.6" cy="57.4" r="1.8" fill="#f0a62c" stroke="#6b4e0e" stroke-width="0.35" /><rect x="274.4" y="52.6" width="3.4" height="3.4" fill="#26339a" transform="rotate(45 276.1 54.3)"/><circle cx="275.1" cy="48.2" r="1.8" fill="#f0a62c" stroke="#6b4e0e" stroke-width="0.35" /><circle cx="291.1" cy="66.9" r="1.8" fill="#f0a62c" stroke="#6b4e0e" stroke-width="0.35" /><circle cx="294.6" cy="72.0" r="1.8" fill="#f0a62c" stroke="#6b4e0e" stroke-width="0.35" /><circle cx="290.1" cy="76.3" r="1.8" fill="#f0a62c" stroke="#6b4e0e" stroke-width="0.35" /><rect x="296.8" y="75.1" width="3.4" height="3.4" fill="#26339a" transform="rotate(45 298.5 76.8)"/><polygon points="0,-2.6 2.2,1.7 -2.2,1.7" fill="#a31f24" transform="translate(302.5 81.5) rotate(139)"/><circle cx="293.3" cy="51.6" r="1.8" fill="#f0a62c" stroke="#6b4e0e" stroke-width="0.35" /><circle cx="287.2" cy="52.6" r="1.8" fill="#f0a62c" stroke="#6b4e0e" stroke-width="0.35" /><circle cx="290.9" cy="45.9" r="1.8" fill="#f0a62c" stroke="#6b4e0e" stroke-width="0.35" /><rect x="287.8" y="38.1" width="3.4" height="3.4" fill="#26339a" transform="rotate(45 289.5 39.8)"/><circle cx="297.4" cy="63.3" r="1.8" fill="#f0a62c" stroke="#6b4e0e" stroke-width="0.35" /><rect x="296.9" y="67.7" width="3.4" height="3.4" fill="#26339a" transform="rotate(45 298.6 69.4)"/><rect x="298.9" y="73.6" width="3.4" height="3.4" fill="#26339a" transform="rotate(45 300.6 75.3)"/><circle cx="306.1" cy="58.6" r="1.8" fill="#f0a62c" stroke="#6b4e0e" stroke-width="0.35" /><circle cx="309.4" cy="63.9" r="1.8" fill="#f0a62c" stroke="#6b4e0e" stroke-width="0.35" /><rect x="303.2" y="66.4" width="3.2" height="3.2" fill="#b565c4" stroke="#5a2a6a" stroke-width="0.3"/><rect x="312.0" y="66.7" width="3.4" height="3.4" fill="#26339a" transform="rotate(45 313.7 68.4)"/><circle cx="208.5" cy="110.7" r="1.8" fill="#f0a62c" stroke="#6b4e0e" stroke-width="0.35" /><circle cx="202.4" cy="111.6" r="1.8" fill="#f0a62c" stroke="#6b4e0e" stroke-width="0.35" /><rect x="198.9" y="104.1" width="3.2" height="3.2" fill="#b565c4" stroke="#5a2a6a" stroke-width="0.3"/><rect x="194.7" y="111.4" width="3.4" height="3.4" fill="#26339a" transform="rotate(45 196.4 113.1)"/><circle cx="223.2" cy="113.2" r="1.8" fill="#f0a62c" stroke="#6b4e0e" stroke-width="0.35" /><rect x="219.4" y="105.6" width="3.4" height="3.4" fill="#26339a" transform="rotate(45 221.1 107.3)"/><circle cx="228.1" cy="109.3" r="1.8" fill="#f0a62c" stroke="#6b4e0e" stroke-width="0.35" /><rect x="231.0" y="111.7" width="3.4" height="3.4" fill="#26339a" transform="rotate(45 232.7 113.4)"/><circle cx="216.1" cy="127.0" r="1.8" fill="#f0a62c" stroke="#6b4e0e" stroke-width="0.35" /><circle cx="210.0" cy="128.5" r="1.8" fill="#f0a62c" stroke="#6b4e0e" stroke-width="0.35" /><rect x="205.3" y="121.4" width="3.4" height="3.4" fill="#26339a" transform="rotate(45 207.0 123.1)"/><polygon points="0,-2.6 2.2,1.7 -2.2,1.7" fill="#a31f24" transform="translate(204.0 129.8) rotate(258)"/><circle cx="227.7" cy="122.6" r="1.8" fill="#f0a62c" stroke="#6b4e0e" stroke-width="0.35" /><circle cx="233.4" cy="120.3" r="1.8" fill="#f0a62c" stroke="#6b4e0e" stroke-width="0.35" /><polygon points="0,-2.6 2.2,1.7 -2.2,1.7" fill="#a31f24" transform="translate(239.3 118.4) rotate(432)"/><circle cx="230.7" cy="128.8" r="1.8" fill="#f0a62c" stroke="#6b4e0e" stroke-width="0.35" /><circle cx="235.8" cy="125.2" r="1.8" fill="#f0a62c" stroke="#6b4e0e" stroke-width="0.35" /><rect x="231.9" y="117.7" width="3.4" height="3.4" fill="#26339a" transform="rotate(45 233.6 119.4)"/><circle cx="231.5" cy="113.6" r="1.8" fill="#f0a62c" stroke="#6b4e0e" stroke-width="0.35" /><circle cx="240.2" cy="120.9" r="1.8" fill="#f0a62c" stroke="#6b4e0e" stroke-width="0.35" /><rect x="243.9" y="122.3" width="3.4" height="3.4" fill="#26339a" transform="rotate(45 245.6 124.0)"/><polygon points="0,-2.6 2.2,1.7 -2.2,1.7" fill="#a31f24" transform="translate(244.8 116.7) rotate(48)"/><circle cx="224.2" cy="142.9" r="1.8" fill="#f0a62c" stroke="#6b4e0e" stroke-width="0.35" /><circle cx="218.5" cy="145.4" r="1.8" fill="#f0a62c" stroke="#6b4e0e" stroke-width="0.35" /><circle cx="212.5" cy="146.9" r="1.8" fill="#f0a62c" stroke="#6b4e0e" stroke-width="0.35" /><rect x="211.2" y="151.4" width="3.4" height="3.4" fill="#26339a" transform="rotate(45 212.9 153.1)"/><polygon points="0,-2.6 2.2,1.7 -2.2,1.7" fill="#a31f24" transform="translate(206.8 149.3) rotate(247)"/><circle cx="239.1" cy="144.7" r="1.8" fill="#f0a62c" stroke="#6b4e0e" stroke-width="0.35" /><rect x="242.0" y="138.9" width="3.4" height="3.4" fill="#26339a" transform="rotate(45 243.7 140.6)"/><polygon points="0,-2.6 2.2,1.7 -2.2,1.7" fill="#a31f24" transform="translate(248.1 136.2) rotate(45)"/><circle cx="229.5" cy="152.6" r="1.8" fill="#f0a62c" stroke="#6b4e0e" stroke-width="0.35" /><circle cx="225.2" cy="157.0" r="1.8" fill="#f0a62c" stroke="#6b4e0e" stroke-width="0.35" /><polygon points="0,-2.6 2.2,1.7 -2.2,1.7" fill="#a31f24" transform="translate(220.4 160.9) rotate(231)"/><circle cx="233.5" cy="159.7" r="1.8" fill="#f0a62c" stroke="#6b4e0e" stroke-width="0.35" /><rect x="226.0" y="160.3" width="3.4" height="3.4" fill="#26339a" transform="rotate(45 227.7 162.0)"/><rect x="222.8" y="155.0" width="3.4" height="3.4" fill="#26339a" transform="rotate(45 224.5 156.7)"/><circle cx="222.0" cy="164.5" r="1.8" fill="#f0a62c" stroke="#6b4e0e" stroke-width="0.35" /><polygon points="0,-2.6 2.2,1.7 -2.2,1.7" fill="#a31f24" transform="translate(216.3 166.9) rotate(247)"/><circle cx="248.4" cy="160.7" r="1.8" fill="#f0a62c" stroke="#6b4e0e" stroke-width="0.35" /><circle cx="252.9" cy="165.0" r="1.8" fill="#f0a62c" stroke="#6b4e0e" stroke-width="0.35" /><rect x="251.5" y="155.2" width="3.4" height="3.4" fill="#26339a" transform="rotate(45 253.2 156.9)"/><circle cx="257.6" cy="152.4" r="1.8" fill="#f0a62c" stroke="#6b4e0e" stroke-width="0.35" /><circle cx="242.5" cy="174.4" r="1.8" fill="#f0a62c" stroke="#6b4e0e" stroke-width="0.35" /><circle cx="237.0" cy="177.2" r="1.8" fill="#f0a62c" stroke="#6b4e0e" stroke-width="0.35" /><circle cx="233.3" cy="172.1" r="1.8" fill="#f0a62c" stroke="#6b4e0e" stroke-width="0.35" /><rect x="229.6" y="177.9" width="3.4" height="3.4" fill="#26339a" transform="rotate(45 231.3 179.6)"/><polygon points="0,-2.6 2.2,1.7 -2.2,1.7" fill="#a31f24" transform="translate(225.3 181.4) rotate(253)"/><circle cx="254.3" cy="170.5" r="1.8" fill="#f0a62c" stroke="#6b4e0e" stroke-width="0.35" /><rect x="258.1" y="166.0" width="3.4" height="3.4" fill="#26339a" transform="rotate(45 259.8 167.7)"/><polygon points="0,-2.6 2.2,1.7 -2.2,1.7" fill="#a31f24" transform="translate(265.8 166.1) rotate(435)"/><circle cx="257.8" cy="176.2" r="1.8" fill="#f0a62c" stroke="#6b4e0e" stroke-width="0.35" /><circle cx="253.9" cy="171.4" r="1.8" fill="#f0a62c" stroke="#6b4e0e" stroke-width="0.35" /><circle cx="261.9" cy="171.6" r="1.8" fill="#f0a62c" stroke="#6b4e0e" stroke-width="0.35" /><rect x="264.9" y="165.8" width="3.4" height="3.4" fill="#26339a" transform="rotate(45 266.6 167.5)"/><circle cx="253.6" cy="191.9" r="1.8" fill="#f0a62c" stroke="#6b4e0e" stroke-width="0.35" /><circle cx="248.1" cy="194.7" r="1.8" fill="#f0a62c" stroke="#6b4e0e" stroke-width="0.35" /><rect x="242.7" y="188.1" width="3.2" height="3.2" fill="#b565c4" stroke="#5a2a6a" stroke-width="0.3"/><rect x="241.0" y="196.1" width="3.4" height="3.4" fill="#26339a" transform="rotate(45 242.7 197.8)"/><path d="M212,103.2 L306.8,51.2" fill="none" stroke="#3b3f9e" stroke-width="1.2" /><path d="M212,103.2 Q232,150 263.5,195.5" fill="none" stroke="#3b3f9e" stroke-width="1.2" /></g>
<path d="M270.5,114.5 Q268,104 272.5,99 T272.3,90.5" fill="none" stroke="#2a2a2a" stroke-width="1.25" />
<path d="M270.5,114.5 Q277,107.5 281,108.8 T288,106.3" fill="none" stroke="#2a2a2a" stroke-width="1.25" />
<path d="M270.5,114.5 Q276,112.5 280,114 T286.8,111.3" fill="none" stroke="#2a2a2a" stroke-width="1.25" />
<rect x="247.30" y="119.50" width="27" height="8" rx="4.0" fill="#1f6b4b" stroke="#111" stroke-width="1" transform="rotate(-44 260.8 123.5)"/>
<path d="M292.3,130.8 Q286,129 283,131.5 T277,136.5" fill="none" stroke="#2a2a2a" stroke-width="1.25" />
<path d="M292.3,130.8 Q287,128 284,129.8 T279,130.3" fill="none" stroke="#2a2a2a" stroke-width="1.25" />
<path d="M292.3,130.8 Q289,138 291.5,143 T291.2,153" fill="none" stroke="#2a2a2a" stroke-width="1.25" />
<rect x="288.70" y="119.50" width="25" height="6.6" rx="3.3" fill="#f2a92f" stroke="#111" stroke-width="1" transform="rotate(-45 301.2 122.8)"/>
<text x="297" y="109.5" font-size="19" font-weight="bold" font-style="normal" fill="#111" text-anchor="middle" >?</text>
</g>
<g id="panel_b">
<text x="102" y="255.8" font-size="11.8" font-weight="bold" font-style="normal" fill="#222" text-anchor="middle" >T6SS secretion apparatus</text>
<text x="273" y="255.8" font-size="11.8" font-weight="bold" font-style="normal" fill="#222" text-anchor="middle" >T6SS-killing</text>
<circle cx="102.1" cy="365" r="89.8" fill="#fbebe7" stroke="#b7b7b7" stroke-width="1.1" />
<polygon points="80.88,305.75 78.20,307.30 75.52,305.75 75.52,302.65 78.20,301.10 80.88,302.65" fill="#9c1b1f" stroke="#5a0d0d" stroke-width="0.5"/>
<polygon points="91.38,302.45 88.70,304.00 86.02,302.45 86.02,299.35 88.70,297.80 91.38,299.35" fill="#9c1b1f" stroke="#5a0d0d" stroke-width="0.5"/>
<polygon points="102.78,305.75 100.10,307.30 97.42,305.75 97.42,302.65 100.10,301.10 102.78,302.65" fill="#9c1b1f" stroke="#5a0d0d" stroke-width="0.5"/>
<text x="104.1" y="299.2" font-size="8.6" font-weight="normal" font-style="normal" fill="#9b3035" text-anchor="start" >Effectors</text>
<rect x="83.6" y="328.6" width="10.7" height="85.79999999999995" fill="#17382a" stroke="none" stroke-width="1" rx="0" /><rect x="85.3" y="329.50" width="7.3" height="3.90" fill="#8fd26f" stroke="none" stroke-width="1" rx="0" /><rect x="85.3" y="334.70" width="7.3" height="3.90" fill="#8fd26f" stroke="none" stroke-width="1" rx="0" /><rect x="85.3" y="339.90" width="7.3" height="3.90" fill="#8fd26f" stroke="none" stroke-width="1" rx="0" /><rect x="85.3" y="345.10" width="7.3" height="3.90" fill="#8fd26f" stroke="none" stroke-width="1" rx="0" /><rect x="85.3" y="350.30" width="7.3" height="3.90" fill="#8fd26f" stroke="none" stroke-width="1" rx="0" /><rect x="85.3" y="355.50" width="7.3" height="3.90" fill="#8fd26f" stroke="none" stroke-width="1" rx="0" /><rect x="85.3" y="360.70" width="7.3" height="3.90" fill="#8fd26f" stroke="none" stroke-width="1" rx="0" /><rect x="85.3" y="365.90" width="7.3" height="3.90" fill="#8fd26f" stroke="none" stroke-width="1" rx="0" /><rect x="85.3" y="371.10" width="7.3" height="3.90" fill="#8fd26f" stroke="none" stroke-width="1" rx="0" /><rect x="85.3" y="376.30" width="7.3" height="3.90" fill="#8fd26f" stroke="none" stroke-width="1" rx="0" /><rect x="85.3" y="381.50" width="7.3" height="3.90" fill="#8fd26f" stroke="none" stroke-width="1" rx="0" /><rect x="85.3" y="386.70" width="7.3" height="3.90" fill="#8fd26f" stroke="none" stroke-width="1" rx="0" /><rect x="85.3" y="391.90" width="7.3" height="3.90" fill="#8fd26f" stroke="none" stroke-width="1" rx="0" /><rect x="85.3" y="397.10" width="7.3" height="3.90" fill="#8fd26f" stroke="none" stroke-width="1" rx="0" /><rect x="85.3" y="402.30" width="7.3" height="3.90" fill="#8fd26f" stroke="none" stroke-width="1" rx="0" /><rect x="85.3" y="407.50" width="7.3" height="3.90" fill="#8fd26f" stroke="none" stroke-width="1" rx="0" /><rect x="85.3" y="412.70" width="7.3" height="0.80" fill="#8fd26f" stroke="none" stroke-width="1" rx="0" />
<rect x="47.3" y="324.6" width="78.2" height="4.5" fill="#f2a82e" stroke="#111" stroke-width="0.9" rx="0" />
<text x="127.6" y="329.4" font-size="8.6" font-weight="normal" font-style="normal" fill="#f0a030" text-anchor="start" >OM, recipient</text>
<polygon points="88.8,312.4 93.9,323.4 83.7,323.4" fill="#e8820c" stroke="#111" stroke-width="0.9" stroke-linejoin="round"/>
<text x="97.5" y="318.6" font-size="8.6" font-weight="normal" font-style="normal" fill="#c8584a" text-anchor="start" >Tip</text>
<text x="97.5" y="339.6" font-size="8.6" font-weight="normal" font-style="normal" fill="#6cc283" text-anchor="start" >Needle</text>
<rect x="47.3" y="346" width="36.3" height="4.3" fill="#1f5a48" stroke="none" stroke-width="1" rx="0" />
<rect x="94.3" y="346" width="31.2" height="4.3" fill="#1f5a48" stroke="none" stroke-width="1" rx="0" />
<text x="127.6" y="351.3" font-size="8.6" font-weight="normal" font-style="normal" fill="#1f7a4a" text-anchor="start" >OM, attacker</text>
<rect x="47.3" y="369.6" width="36.3" height="4.6" fill="#1f5a48" stroke="none" stroke-width="1" rx="0" />
<rect x="94.3" y="369.6" width="31.2" height="4.6" fill="#1f5a48" stroke="none" stroke-width="1" rx="0" />
<text x="127.6" y="374.8" font-size="8.6" font-weight="normal" font-style="normal" fill="#1f7a4a" text-anchor="start" >IM, attacker</text>
<rect x="70.3" y="357" width="37.5" height="15.8" fill="#c987c9" stroke="none" stroke-width="1" rx="0" opacity="0.85"/>
<ellipse cx="89.5" cy="361" rx="12.4" ry="9.2" fill="#d6d6d6" stroke="none" stroke-width="1" opacity="0.85"/>
<path d="M78.2,369.4 Q89.5,360.5 100.9,369.4 Z" fill="#b0a398" stroke="none" stroke-width="1" />
<rect x="78.2" y="369" width="22.7" height="9.6" fill="#70421a" stroke="none" stroke-width="1" rx="0" />
<text x="66.8" y="361.2" font-size="8.6" font-weight="normal" font-style="normal" fill="#5e3f18" text-anchor="end" >Baseplate</text>
<text x="66.8" y="369.2" font-size="8.6" font-weight="normal" font-style="normal" fill="#c062c0" text-anchor="end" >IcmF1</text>
<text x="110" y="360.8" font-size="8.6" font-weight="normal" font-style="normal" fill="#c6c6c6" text-anchor="start" >Membrane complex</text>
<circle cx="79.6" cy="417.2" r="9.9" fill="#d08ccd" stroke="none" stroke-width="1" opacity="0.85"/>
<text x="65.4" y="420.2" font-size="8.6" font-weight="normal" font-style="normal" fill="#c062c0" text-anchor="end" >ClpV1</text>
<path d="M68.9,430 Q70.5,423 79,423.4 Q88,424 89.3,431.5" fill="none" stroke="#111" stroke-width="1.1" />
<polygon points="89.6,435 87.2,430.6 91.6,430.3" fill="#111"/>
<text x="62.7" y="443" font-size="7.8" font-weight="normal" font-style="normal" fill="#222" text-anchor="start" >ATP</text>
<text x="81.4" y="443" font-size="7.8" font-weight="normal" font-style="normal" fill="#222" text-anchor="start" >ADP+P</text>
<radialGradient id="glow" cx="0.5" cy="0.5" r="0.5"><stop offset="0" stop-color="#f3b04a" stop-opacity="0.95"/><stop offset="0.45" stop-color="#f5c27a" stop-opacity="0.75"/><stop offset="1" stop-color="#f8d9b0" stop-opacity="0"/></radialGradient>
<circle cx="268" cy="364.5" r="52.3" fill="#fbebe7" stroke="#b7b7b7" stroke-width="1.1" />
<clipPath id="cpK"><circle cx="268" cy="364.5" r="51.7"/></clipPath>
<filter id="blur3" x="-20%" y="-20%" width="140%" height="140%"><feGaussianBlur stdDeviation="3.2"/></filter>
<filter id="blur1" x="-20%" y="-40%" width="140%" height="180%"><feGaussianBlur stdDeviation="1.6"/></filter>
<radialGradient id="glow2" cx="0.5" cy="0.5" r="0.5"><stop offset="0" stop-color="#f7dcb4"/><stop offset="0.72" stop-color="#f8e0be"/><stop offset="1" stop-color="#f9e6d6" stop-opacity="0"/></radialGradient>
<filter id="blur08" x="-20%" y="-40%" width="140%" height="180%"><feGaussianBlur stdDeviation="0.9"/></filter>
<g clip-path="url(#cpK)">
<ellipse cx="256.4" cy="345" rx="33" ry="29" fill="url(#glow2)" stroke="none" stroke-width="1" />
<ellipse cx="254.5" cy="358.3" rx="19.5" ry="7.2" fill="#f0a62c" stroke="none" stroke-width="1" filter="url(#blur08)"/>
</g>
<line x1="237.5" y1="352.8" x2="272.5" y2="352.8" stroke="#5a431c" stroke-width="1.1" stroke-dasharray="3 1.6"/>
<line x1="237.5" y1="363.3" x2="272.5" y2="363.3" stroke="#5a431c" stroke-width="1.1" stroke-dasharray="3 1.6"/>
<circle cx="239.9" cy="341.7" r="1.1" fill="#d6a04a" stroke="none" stroke-width="1" opacity="0.9"/>
<circle cx="245.4" cy="343.0" r="0.8" fill="#d6a04a" stroke="none" stroke-width="1" opacity="0.9"/>
<circle cx="240.7" cy="331.6" r="0.9" fill="#d6a04a" stroke="none" stroke-width="1" opacity="0.9"/>
<circle cx="264.0" cy="339.7" r="0.8" fill="#d6a04a" stroke="none" stroke-width="1" opacity="0.9"/>
<circle cx="263.9" cy="348.9" r="0.9" fill="#d6a04a" stroke="none" stroke-width="1" opacity="0.9"/>
<circle cx="266.9" cy="332.4" r="1.1" fill="#d6a04a" stroke="none" stroke-width="1" opacity="0.9"/>
<circle cx="249.1" cy="353.9" r="0.8" fill="#d6a04a" stroke="none" stroke-width="1" opacity="0.9"/>
<circle cx="257.2" cy="348.6" r="0.8" fill="#d6a04a" stroke="none" stroke-width="1" opacity="0.9"/>
<circle cx="248.8" cy="331.1" r="1.1" fill="#d6a04a" stroke="none" stroke-width="1" opacity="0.9"/>
<circle cx="249.5" cy="351.0" r="0.8" fill="#d6a04a" stroke="none" stroke-width="1" opacity="0.9"/>
<circle cx="278.5" cy="345.4" r="0.9" fill="#d6a04a" stroke="none" stroke-width="1" opacity="0.9"/>
<circle cx="233.6" cy="338.7" r="0.9" fill="#d6a04a" stroke="none" stroke-width="1" opacity="0.9"/>
<circle cx="249.2" cy="332.4" r="1.1" fill="#d6a04a" stroke="none" stroke-width="1" opacity="0.9"/>
<circle cx="254.0" cy="347.0" r="0.9" fill="#d6a04a" stroke="none" stroke-width="1" opacity="0.9"/>
<circle cx="243.5" cy="350.1" r="1.1" fill="#d6a04a" stroke="none" stroke-width="1" opacity="0.9"/>
<circle cx="259.5" cy="347.9" r="1.1" fill="#d6a04a" stroke="none" stroke-width="1" opacity="0.9"/>
<circle cx="246.4" cy="342.8" r="0.9" fill="#d6a04a" stroke="none" stroke-width="1" opacity="0.9"/>
<circle cx="243.2" cy="335.9" r="0.8" fill="#d6a04a" stroke="none" stroke-width="1" opacity="0.9"/>
<circle cx="250.1" cy="340.3" r="0.8" fill="#d6a04a" stroke="none" stroke-width="1" opacity="0.9"/>
<circle cx="255.9" cy="334.6" r="0.9" fill="#d6a04a" stroke="none" stroke-width="1" opacity="0.9"/>
<circle cx="231.1" cy="347.7" r="0.9" fill="#d6a04a" stroke="none" stroke-width="1" opacity="0.9"/>
<circle cx="271.5" cy="342.9" r="0.9" fill="#d6a04a" stroke="none" stroke-width="1" opacity="0.9"/>
<circle cx="279.3" cy="343.0" r="0.9" fill="#d6a04a" stroke="none" stroke-width="1" opacity="0.9"/>
<circle cx="242.3" cy="347.5" r="0.9" fill="#d6a04a" stroke="none" stroke-width="1" opacity="0.9"/>
<circle cx="270.1" cy="343.2" r="0.9" fill="#d6a04a" stroke="none" stroke-width="1" opacity="0.9"/>
<circle cx="247.3" cy="335.0" r="1.1" fill="#d6a04a" stroke="none" stroke-width="1" opacity="0.9"/>
<circle cx="245.3" cy="328.1" r="0.8" fill="#d6a04a" stroke="none" stroke-width="1" opacity="0.9"/>
<circle cx="270.9" cy="347.8" r="0.8" fill="#d6a04a" stroke="none" stroke-width="1" opacity="0.9"/>
<circle cx="256.4" cy="339.2" r="0.9" fill="#d6a04a" stroke="none" stroke-width="1" opacity="0.9"/>
<circle cx="251.1" cy="351.2" r="1.1" fill="#d6a04a" stroke="none" stroke-width="1" opacity="0.9"/>
<circle cx="270.5" cy="351.8" r="0.8" fill="#d6a04a" stroke="none" stroke-width="1" opacity="0.9"/>
<circle cx="272.3" cy="346.5" r="0.9" fill="#d6a04a" stroke="none" stroke-width="1" opacity="0.9"/>
<circle cx="266.4" cy="340.7" r="0.9" fill="#d6a04a" stroke="none" stroke-width="1" opacity="0.9"/>
<circle cx="250.8" cy="343.9" r="0.8" fill="#d6a04a" stroke="none" stroke-width="1" opacity="0.9"/>
<circle cx="269.8" cy="349.5" r="1.1" fill="#d6a04a" stroke="none" stroke-width="1" opacity="0.9"/>
<circle cx="250.7" cy="343.1" r="0.8" fill="#d6a04a" stroke="none" stroke-width="1" opacity="0.9"/>
<circle cx="272.2" cy="339.3" r="0.8" fill="#d6a04a" stroke="none" stroke-width="1" opacity="0.9"/>
<circle cx="243.8" cy="340.4" r="0.8" fill="#d6a04a" stroke="none" stroke-width="1" opacity="0.9"/>
<circle cx="238.7" cy="351.2" r="1.1" fill="#d6a04a" stroke="none" stroke-width="1" opacity="0.9"/>
<circle cx="240.9" cy="339.8" r="1.1" fill="#d6a04a" stroke="none" stroke-width="1" opacity="0.9"/>
<circle cx="247.5" cy="321" r="1.1" fill="#d6a04a" stroke="none" stroke-width="1" />
<circle cx="256.5" cy="321.5" r="1.1" fill="#d6a04a" stroke="none" stroke-width="1" />
<circle cx="270" cy="319.5" r="1.1" fill="#d6a04a" stroke="none" stroke-width="1" />
<circle cx="265" cy="335" r="1.1" fill="#d6a04a" stroke="none" stroke-width="1" />
<circle cx="279" cy="343" r="1.1" fill="#d6a04a" stroke="none" stroke-width="1" />
<circle cx="277.5" cy="367" r="1.1" fill="#d6a04a" stroke="none" stroke-width="1" />
<circle cx="245.4" cy="354.8" r="1.7" fill="#5a1015" stroke="none" stroke-width="1" />
<circle cx="249.6" cy="358.3" r="1.7" fill="#5a1015" stroke="none" stroke-width="1" />
<circle cx="245.9" cy="362" r="1.7" fill="#5a1015" stroke="none" stroke-width="1" />
<rect x="243.6" y="364.5" width="3.2" height="20.5" fill="#8fd98c" stroke="#58b868" stroke-width="0.5" rx="0" />
<path d="M273.5,359 Q278,351 283,350.5 T289.8,345.2" fill="none" stroke="#222" stroke-width="1.3" />
<path d="M273.5,359 Q280,354 285,356 Q290,357.5 292,353 Q294,349 296.5,349.8" fill="none" stroke="#222" stroke-width="1.3" />
<path d="M273.5,359 Q279,361 282,366 Q284,370 287,369" fill="none" stroke="#222" stroke-width="1.1" />
<path d="M272.5,390 Q277,383 281.5,382.5 Q286,382 288,376.5" fill="none" stroke="#222" stroke-width="1.3" />
<path d="M272.5,390 Q279,389 283,385 Q288,380 292,381.5 Q295,382.5 298,380.3" fill="none" stroke="#222" stroke-width="1.3" />
<path d="M272.5,390 Q277,392 280,397 Q284,404 289,404.5 Q293,405 296.5,411" fill="none" stroke="#222" stroke-width="1.3" />
<rect x="234.7" y="384.3" width="38" height="10.6" fill="#1f6b4b" stroke="#111" stroke-width="1" rx="5.3" />
<circle cx="248.2" cy="373.4" r="17" fill="none" stroke="#9f9f9f" stroke-width="1.3" />
<line x1="152" y1="288.5" x2="237" y2="358.5" stroke="#666" stroke-width="1.1" stroke-dasharray="5.5 4"/>
<line x1="152" y1="436" x2="231" y2="390.3" stroke="#666" stroke-width="1.1" stroke-dasharray="5.5 4"/>
</g>
<g id="panel_c">
<text x="190.7" y="507.8" font-size="11.8" font-weight="bold" font-style="normal" fill="#222" text-anchor="middle" >Schematic of GacS/Rsm system</text>
<text x="87.8" y="527" font-size="19" font-weight="bold" font-style="normal" fill="#111" text-anchor="middle" >?</text>
<text x="90.3" y="541.2" font-size="10.2" font-weight="bold" font-style="normal" fill="#2b5ca6" text-anchor="middle" >Dismed2</text>
<rect x="58.6" y="564" width="278.4" height="16.5" fill="#e4e4e4" stroke="none" stroke-width="1" rx="0" /><line x1="59.4" y1="564.2" x2="59.4" y2="580.2" stroke="#7a7a7a" stroke-width="0.7" /><line x1="61.6" y1="564.2" x2="61.6" y2="580.2" stroke="#7a7a7a" stroke-width="0.7" /><line x1="64.2" y1="564.2" x2="64.2" y2="580.2" stroke="#7a7a7a" stroke-width="0.7" /><line x1="66.4" y1="564.2" x2="66.4" y2="580.2" stroke="#7a7a7a" stroke-width="0.7" /><line x1="69.0" y1="564.2" x2="69.0" y2="580.2" stroke="#7a7a7a" stroke-width="0.7" /><line x1="71.2" y1="564.2" x2="71.2" y2="580.2" stroke="#7a7a7a" stroke-width="0.7" /><line x1="73.8" y1="564.2" x2="73.8" y2="580.2" stroke="#7a7a7a" stroke-width="0.7" /><line x1="76.0" y1="564.2" x2="76.0" y2="580.2" stroke="#7a7a7a" stroke-width="0.7" /><line x1="78.6" y1="564.2" x2="78.6" y2="580.2" stroke="#7a7a7a" stroke-width="0.7" /><line x1="80.8" y1="564.2" x2="80.8" y2="580.2" stroke="#7a7a7a" stroke-width="0.7" /><line x1="83.4" y1="564.2" x2="83.4" y2="580.2" stroke="#7a7a7a" stroke-width="0.7" /><line x1="85.6" y1="564.2" x2="85.6" y2="580.2" stroke="#7a7a7a" stroke-width="0.7" /><line x1="88.2" y1="564.2" x2="88.2" y2="580.2" stroke="#7a7a7a" stroke-width="0.7" /><line x1="90.4" y1="564.2" x2="90.4" y2="580.2" stroke="#7a7a7a" stroke-width="0.7" /><line x1="93.0" y1="564.2" x2="93.0" y2="580.2" stroke="#7a7a7a" stroke-width="0.7" /><line x1="95.2" y1="564.2" x2="95.2" y2="580.2" stroke="#7a7a7a" stroke-width="0.7" /><line x1="97.8" y1="564.2" x2="97.8" y2="580.2" stroke="#7a7a7a" stroke-width="0.7" /><line x1="100.0" y1="564.2" x2="100.0" y2="580.2" stroke="#7a7a7a" stroke-width="0.7" /><line x1="102.6" y1="564.2" x2="102.6" y2="580.2" stroke="#7a7a7a" stroke-width="0.7" /><line x1="104.8" y1="564.2" x2="104.8" y2="580.2" stroke="#7a7a7a" stroke-width="0.7" /><line x1="107.4" y1="564.2" x2="107.4" y2="580.2" stroke="#7a7a7a" stroke-width="0.7" /><line x1="109.6" y1="564.2" x2="109.6" y2="580.2" stroke="#7a7a7a" stroke-width="0.7" /><line x1="112.2" y1="564.2" x2="112.2" y2="580.2" stroke="#7a7a7a" stroke-width="0.7" /><line x1="114.4" y1="564.2" x2="114.4" y2="580.2" stroke="#7a7a7a" stroke-width="0.7" /><line x1="117.0" y1="564.2" x2="117.0" y2="580.2" stroke="#7a7a7a" stroke-width="0.7" /><line x1="119.2" y1="564.2" x2="119.2" y2="580.2" stroke="#7a7a7a" stroke-width="0.7" /><line x1="121.8" y1="564.2" x2="121.8" y2="580.2" stroke="#7a7a7a" stroke-width="0.7" /><line x1="124.0" y1="564.2" x2="124.0" y2="580.2" stroke="#7a7a7a" stroke-width="0.7" /><line x1="126.6" y1="564.2" x2="126.6" y2="580.2" stroke="#7a7a7a" stroke-width="0.7" /><line x1="128.8" y1="564.2" x2="128.8" y2="580.2" stroke="#7a7a7a" stroke-width="0.7" /><line x1="131.4" y1="564.2" x2="131.4" y2="580.2" stroke="#7a7a7a" stroke-width="0.7" /><line x1="133.6" y1="564.2" x2="133.6" y2="580.2" stroke="#7a7a7a" stroke-width="0.7" /><line x1="136.2" y1="564.2" x2="136.2" y2="580.2" stroke="#7a7a7a" stroke-width="0.7" /><line x1="138.4" y1="564.2" x2="138.4" y2="580.2" stroke="#7a7a7a" stroke-width="0.7" /><line x1="141.0" y1="564.2" x2="141.0" y2="580.2" stroke="#7a7a7a" stroke-width="0.7" /><line x1="143.2" y1="564.2" x2="143.2" y2="580.2" stroke="#7a7a7a" stroke-width="0.7" /><line x1="145.8" y1="564.2" x2="145.8" y2="580.2" stroke="#7a7a7a" stroke-width="0.7" /><line x1="148.0" y1="564.2" x2="148.0" y2="580.2" stroke="#7a7a7a" stroke-width="0.7" /><line x1="150.6" y1="564.2" x2="150.6" y2="580.2" stroke="#7a7a7a" stroke-width="0.7" /><line x1="152.8" y1="564.2" x2="152.8" y2="580.2" stroke="#7a7a7a" stroke-width="0.7" /><line x1="155.4" y1="564.2" x2="155.4" y2="580.2" stroke="#7a7a7a" stroke-width="0.7" /><line x1="157.6" y1="564.2" x2="157.6" y2="580.2" stroke="#7a7a7a" stroke-width="0.7" /><line x1="160.2" y1="564.2" x2="160.2" y2="580.2" stroke="#7a7a7a" stroke-width="0.7" /><line x1="162.4" y1="564.2" x2="162.4" y2="580.2" stroke="#7a7a7a" stroke-width="0.7" /><line x1="165.0" y1="564.2" x2="165.0" y2="580.2" stroke="#7a7a7a" stroke-width="0.7" /><line x1="167.2" y1="564.2" x2="167.2" y2="580.2" stroke="#7a7a7a" stroke-width="0.7" /><line x1="169.8" y1="564.2" x2="169.8" y2="580.2" stroke="#7a7a7a" stroke-width="0.7" /><line x1="172.0" y1="564.2" x2="172.0" y2="580.2" stroke="#7a7a7a" stroke-width="0.7" /><line x1="174.6" y1="564.2" x2="174.6" y2="580.2" stroke="#7a7a7a" stroke-width="0.7" /><line x1="176.8" y1="564.2" x2="176.8" y2="580.2" stroke="#7a7a7a" stroke-width="0.7" /><line x1="179.4" y1="564.2" x2="179.4" y2="580.2" stroke="#7a7a7a" stroke-width="0.7" /><line x1="181.6" y1="564.2" x2="181.6" y2="580.2" stroke="#7a7a7a" stroke-width="0.7" /><line x1="184.2" y1="564.2" x2="184.2" y2="580.2" stroke="#7a7a7a" stroke-width="0.7" /><line x1="186.4" y1="564.2" x2="186.4" y2="580.2" stroke="#7a7a7a" stroke-width="0.7" /><line x1="189.0" y1="564.2" x2="189.0" y2="580.2" stroke="#7a7a7a" stroke-width="0.7" /><line x1="191.2" y1="564.2" x2="191.2" y2="580.2" stroke="#7a7a7a" stroke-width="0.7" /><line x1="193.8" y1="564.2" x2="193.8" y2="580.2" stroke="#7a7a7a" stroke-width="0.7" /><line x1="196.0" y1="564.2" x2="196.0" y2="580.2" stroke="#7a7a7a" stroke-width="0.7" /><line x1="198.6" y1="564.2" x2="198.6" y2="580.2" stroke="#7a7a7a" stroke-width="0.7" /><line x1="200.8" y1="564.2" x2="200.8" y2="580.2" stroke="#7a7a7a" stroke-width="0.7" /><line x1="203.4" y1="564.2" x2="203.4" y2="580.2" stroke="#7a7a7a" stroke-width="0.7" /><line x1="205.6" y1="564.2" x2="205.6" y2="580.2" stroke="#7a7a7a" stroke-width="0.7" /><line x1="208.2" y1="564.2" x2="208.2" y2="580.2" stroke="#7a7a7a" stroke-width="0.7" /><line x1="210.4" y1="564.2" x2="210.4" y2="580.2" stroke="#7a7a7a" stroke-width="0.7" /><line x1="213.0" y1="564.2" x2="213.0" y2="580.2" stroke="#7a7a7a" stroke-width="0.7" /><line x1="215.2" y1="564.2" x2="215.2" y2="580.2" stroke="#7a7a7a" stroke-width="0.7" /><line x1="217.8" y1="564.2" x2="217.8" y2="580.2" stroke="#7a7a7a" stroke-width="0.7" /><line x1="220.0" y1="564.2" x2="220.0" y2="580.2" stroke="#7a7a7a" stroke-width="0.7" /><line x1="222.6" y1="564.2" x2="222.6" y2="580.2" stroke="#7a7a7a" stroke-width="0.7" /><line x1="224.8" y1="564.2" x2="224.8" y2="580.2" stroke="#7a7a7a" stroke-width="0.7" /><line x1="227.4" y1="564.2" x2="227.4" y2="580.2" stroke="#7a7a7a" stroke-width="0.7" /><line x1="229.6" y1="564.2" x2="229.6" y2="580.2" stroke="#7a7a7a" stroke-width="0.7" /><line x1="232.2" y1="564.2" x2="232.2" y2="580.2" stroke="#7a7a7a" stroke-width="0.7" /><line x1="234.4" y1="564.2" x2="234.4" y2="580.2" stroke="#7a7a7a" stroke-width="0.7" /><line x1="237.0" y1="564.2" x2="237.0" y2="580.2" stroke="#7a7a7a" stroke-width="0.7" /><line x1="239.2" y1="564.2" x2="239.2" y2="580.2" stroke="#7a7a7a" stroke-width="0.7" /><line x1="241.8" y1="564.2" x2="241.8" y2="580.2" stroke="#7a7a7a" stroke-width="0.7" /><line x1="244.0" y1="564.2" x2="244.0" y2="580.2" stroke="#7a7a7a" stroke-width="0.7" /><line x1="246.6" y1="564.2" x2="246.6" y2="580.2" stroke="#7a7a7a" stroke-width="0.7" /><line x1="248.8" y1="564.2" x2="248.8" y2="580.2" stroke="#7a7a7a" stroke-width="0.7" /><line x1="251.4" y1="564.2" x2="251.4" y2="580.2" stroke="#7a7a7a" stroke-width="0.7" /><line x1="253.6" y1="564.2" x2="253.6" y2="580.2" stroke="#7a7a7a" stroke-width="0.7" /><line x1="256.2" y1="564.2" x2="256.2" y2="580.2" stroke="#7a7a7a" stroke-width="0.7" /><line x1="258.4" y1="564.2" x2="258.4" y2="580.2" stroke="#7a7a7a" stroke-width="0.7" /><line x1="261.0" y1="564.2" x2="261.0" y2="580.2" stroke="#7a7a7a" stroke-width="0.7" /><line x1="263.2" y1="564.2" x2="263.2" y2="580.2" stroke="#7a7a7a" stroke-width="0.7" /><line x1="265.8" y1="564.2" x2="265.8" y2="580.2" stroke="#7a7a7a" stroke-width="0.7" /><line x1="268.0" y1="564.2" x2="268.0" y2="580.2" stroke="#7a7a7a" stroke-width="0.7" /><line x1="270.6" y1="564.2" x2="270.6" y2="580.2" stroke="#7a7a7a" stroke-width="0.7" /><line x1="272.8" y1="564.2" x2="272.8" y2="580.2" stroke="#7a7a7a" stroke-width="0.7" /><line x1="275.4" y1="564.2" x2="275.4" y2="580.2" stroke="#7a7a7a" stroke-width="0.7" /><line x1="277.6" y1="564.2" x2="277.6" y2="580.2" stroke="#7a7a7a" stroke-width="0.7" /><line x1="280.2" y1="564.2" x2="280.2" y2="580.2" stroke="#7a7a7a" stroke-width="0.7" /><line x1="282.4" y1="564.2" x2="282.4" y2="580.2" stroke="#7a7a7a" stroke-width="0.7" /><line x1="285.0" y1="564.2" x2="285.0" y2="580.2" stroke="#7a7a7a" stroke-width="0.7" /><line x1="287.2" y1="564.2" x2="287.2" y2="580.2" stroke="#7a7a7a" stroke-width="0.7" /><line x1="289.8" y1="564.2" x2="289.8" y2="580.2" stroke="#7a7a7a" stroke-width="0.7" /><line x1="292.0" y1="564.2" x2="292.0" y2="580.2" stroke="#7a7a7a" stroke-width="0.7" /><line x1="294.6" y1="564.2" x2="294.6" y2="580.2" stroke="#7a7a7a" stroke-width="0.7" /><line x1="296.8" y1="564.2" x2="296.8" y2="580.2" stroke="#7a7a7a" stroke-width="0.7" /><line x1="299.4" y1="564.2" x2="299.4" y2="580.2" stroke="#7a7a7a" stroke-width="0.7" /><line x1="301.6" y1="564.2" x2="301.6" y2="580.2" stroke="#7a7a7a" stroke-width="0.7" /><line x1="304.2" y1="564.2" x2="304.2" y2="580.2" stroke="#7a7a7a" stroke-width="0.7" /><line x1="306.4" y1="564.2" x2="306.4" y2="580.2" stroke="#7a7a7a" stroke-width="0.7" /><line x1="309.0" y1="564.2" x2="309.0" y2="580.2" stroke="#7a7a7a" stroke-width="0.7" /><line x1="311.2" y1="564.2" x2="311.2" y2="580.2" stroke="#7a7a7a" stroke-width="0.7" /><line x1="313.8" y1="564.2" x2="313.8" y2="580.2" stroke="#7a7a7a" stroke-width="0.7" /><line x1="316.0" y1="564.2" x2="316.0" y2="580.2" stroke="#7a7a7a" stroke-width="0.7" /><line x1="318.6" y1="564.2" x2="318.6" y2="580.2" stroke="#7a7a7a" stroke-width="0.7" /><line x1="320.8" y1="564.2" x2="320.8" y2="580.2" stroke="#7a7a7a" stroke-width="0.7" /><line x1="323.4" y1="564.2" x2="323.4" y2="580.2" stroke="#7a7a7a" stroke-width="0.7" /><line x1="325.6" y1="564.2" x2="325.6" y2="580.2" stroke="#7a7a7a" stroke-width="0.7" /><line x1="328.2" y1="564.2" x2="328.2" y2="580.2" stroke="#7a7a7a" stroke-width="0.7" /><line x1="330.4" y1="564.2" x2="330.4" y2="580.2" stroke="#7a7a7a" stroke-width="0.7" /><line x1="333.0" y1="564.2" x2="333.0" y2="580.2" stroke="#7a7a7a" stroke-width="0.7" /><line x1="335.2" y1="564.2" x2="335.2" y2="580.2" stroke="#7a7a7a" stroke-width="0.7" /><circle cx="60.5" cy="562.3" r="2.0" fill="#fdfdfd" stroke="#8a8a8a" stroke-width="0.65" /><circle cx="60.5" cy="582" r="2.0" fill="#fdfdfd" stroke="#8a8a8a" stroke-width="0.65" /><circle cx="65.3" cy="562.3" r="2.0" fill="#fdfdfd" stroke="#8a8a8a" stroke-width="0.65" /><circle cx="65.3" cy="582" r="2.0" fill="#fdfdfd" stroke="#8a8a8a" stroke-width="0.65" /><circle cx="70.1" cy="562.3" r="2.0" fill="#fdfdfd" stroke="#8a8a8a" stroke-width="0.65" /><circle cx="70.1" cy="582" r="2.0" fill="#fdfdfd" stroke="#8a8a8a" stroke-width="0.65" /><circle cx="74.9" cy="562.3" r="2.0" fill="#fdfdfd" stroke="#8a8a8a" stroke-width="0.65" /><circle cx="74.9" cy="582" r="2.0" fill="#fdfdfd" stroke="#8a8a8a" stroke-width="0.65" /><circle cx="79.7" cy="562.3" r="2.0" fill="#fdfdfd" stroke="#8a8a8a" stroke-width="0.65" /><circle cx="79.7" cy="582" r="2.0" fill="#fdfdfd" stroke="#8a8a8a" stroke-width="0.65" /><circle cx="84.5" cy="562.3" r="2.0" fill="#fdfdfd" stroke="#8a8a8a" stroke-width="0.65" /><circle cx="84.5" cy="582" r="2.0" fill="#fdfdfd" stroke="#8a8a8a" stroke-width="0.65" /><circle cx="89.3" cy="562.3" r="2.0" fill="#fdfdfd" stroke="#8a8a8a" stroke-width="0.65" /><circle cx="89.3" cy="582" r="2.0" fill="#fdfdfd" stroke="#8a8a8a" stroke-width="0.65" /><circle cx="94.1" cy="562.3" r="2.0" fill="#fdfdfd" stroke="#8a8a8a" stroke-width="0.65" /><circle cx="94.1" cy="582" r="2.0" fill="#fdfdfd" stroke="#8a8a8a" stroke-width="0.65" /><circle cx="98.9" cy="562.3" r="2.0" fill="#fdfdfd" stroke="#8a8a8a" stroke-width="0.65" /><circle cx="98.9" cy="582" r="2.0" fill="#fdfdfd" stroke="#8a8a8a" stroke-width="0.65" /><circle cx="103.7" cy="562.3" r="2.0" fill="#fdfdfd" stroke="#8a8a8a" stroke-width="0.65" /><circle cx="103.7" cy="582" r="2.0" fill="#fdfdfd" stroke="#8a8a8a" stroke-width="0.65" /><circle cx="108.5" cy="562.3" r="2.0" fill="#fdfdfd" stroke="#8a8a8a" stroke-width="0.65" /><circle cx="108.5" cy="582" r="2.0" fill="#fdfdfd" stroke="#8a8a8a" stroke-width="0.65" /><circle cx="113.3" cy="562.3" r="2.0" fill="#fdfdfd" stroke="#8a8a8a" stroke-width="0.65" /><circle cx="113.3" cy="582" r="2.0" fill="#fdfdfd" stroke="#8a8a8a" stroke-width="0.65" /><circle cx="118.1" cy="562.3" r="2.0" fill="#fdfdfd" stroke="#8a8a8a" stroke-width="0.65" /><circle cx="118.1" cy="582" r="2.0" fill="#fdfdfd" stroke="#8a8a8a" stroke-width="0.65" /><circle cx="122.9" cy="562.3" r="2.0" fill="#fdfdfd" stroke="#8a8a8a" stroke-width="0.65" /><circle cx="122.9" cy="582" r="2.0" fill="#fdfdfd" stroke="#8a8a8a" stroke-width="0.65" /><circle cx="127.7" cy="562.3" r="2.0" fill="#fdfdfd" stroke="#8a8a8a" stroke-width="0.65" /><circle cx="127.7" cy="582" r="2.0" fill="#fdfdfd" stroke="#8a8a8a" stroke-width="0.65" /><circle cx="132.5" cy="562.3" r="2.0" fill="#fdfdfd" stroke="#8a8a8a" stroke-width="0.65" /><circle cx="132.5" cy="582" r="2.0" fill="#fdfdfd" stroke="#8a8a8a" stroke-width="0.65" /><circle cx="137.3" cy="562.3" r="2.0" fill="#fdfdfd" stroke="#8a8a8a" stroke-width="0.65" /><circle cx="137.3" cy="582" r="2.0" fill="#fdfdfd" stroke="#8a8a8a" stroke-width="0.65" /><circle cx="142.1" cy="562.3" r="2.0" fill="#fdfdfd" stroke="#8a8a8a" stroke-width="0.65" /><circle cx="142.1" cy="582" r="2.0" fill="#fdfdfd" stroke="#8a8a8a" stroke-width="0.65" /><circle cx="146.9" cy="562.3" r="2.0" fill="#fdfdfd" stroke="#8a8a8a" stroke-width="0.65" /><circle cx="146.9" cy="582" r="2.0" fill="#fdfdfd" stroke="#8a8a8a" stroke-width="0.65" /><circle cx="151.7" cy="562.3" r="2.0" fill="#fdfdfd" stroke="#8a8a8a" stroke-width="0.65" /><circle cx="151.7" cy="582" r="2.0" fill="#fdfdfd" stroke="#8a8a8a" stroke-width="0.65" /><circle cx="156.5" cy="562.3" r="2.0" fill="#fdfdfd" stroke="#8a8a8a" stroke-width="0.65" /><circle cx="156.5" cy="582" r="2.0" fill="#fdfdfd" stroke="#8a8a8a" stroke-width="0.65" /><circle cx="161.3" cy="562.3" r="2.0" fill="#fdfdfd" stroke="#8a8a8a" stroke-width="0.65" /><circle cx="161.3" cy="582" r="2.0" fill="#fdfdfd" stroke="#8a8a8a" stroke-width="0.65" /><circle cx="166.1" cy="562.3" r="2.0" fill="#fdfdfd" stroke="#8a8a8a" stroke-width="0.65" /><circle cx="166.1" cy="582" r="2.0" fill="#fdfdfd" stroke="#8a8a8a" stroke-width="0.65" /><circle cx="170.9" cy="562.3" r="2.0" fill="#fdfdfd" stroke="#8a8a8a" stroke-width="0.65" /><circle cx="170.9" cy="582" r="2.0" fill="#fdfdfd" stroke="#8a8a8a" stroke-width="0.65" /><circle cx="175.7" cy="562.3" r="2.0" fill="#fdfdfd" stroke="#8a8a8a" stroke-width="0.65" /><circle cx="175.7" cy="582" r="2.0" fill="#fdfdfd" stroke="#8a8a8a" stroke-width="0.65" /><circle cx="180.5" cy="562.3" r="2.0" fill="#fdfdfd" stroke="#8a8a8a" stroke-width="0.65" /><circle cx="180.5" cy="582" r="2.0" fill="#fdfdfd" stroke="#8a8a8a" stroke-width="0.65" /><circle cx="185.3" cy="562.3" r="2.0" fill="#fdfdfd" stroke="#8a8a8a" stroke-width="0.65" /><circle cx="185.3" cy="582" r="2.0" fill="#fdfdfd" stroke="#8a8a8a" stroke-width="0.65" /><circle cx="190.1" cy="562.3" r="2.0" fill="#fdfdfd" stroke="#8a8a8a" stroke-width="0.65" /><circle cx="190.1" cy="582" r="2.0" fill="#fdfdfd" stroke="#8a8a8a" stroke-width="0.65" /><circle cx="194.9" cy="562.3" r="2.0" fill="#fdfdfd" stroke="#8a8a8a" stroke-width="0.65" /><circle cx="194.9" cy="582" r="2.0" fill="#fdfdfd" stroke="#8a8a8a" stroke-width="0.65" /><circle cx="199.7" cy="562.3" r="2.0" fill="#fdfdfd" stroke="#8a8a8a" stroke-width="0.65" /><circle cx="199.7" cy="582" r="2.0" fill="#fdfdfd" stroke="#8a8a8a" stroke-width="0.65" /><circle cx="204.5" cy="562.3" r="2.0" fill="#fdfdfd" stroke="#8a8a8a" stroke-width="0.65" /><circle cx="204.5" cy="582" r="2.0" fill="#fdfdfd" stroke="#8a8a8a" stroke-width="0.65" /><circle cx="209.3" cy="562.3" r="2.0" fill="#fdfdfd" stroke="#8a8a8a" stroke-width="0.65" /><circle cx="209.3" cy="582" r="2.0" fill="#fdfdfd" stroke="#8a8a8a" stroke-width="0.65" /><circle cx="214.1" cy="562.3" r="2.0" fill="#fdfdfd" stroke="#8a8a8a" stroke-width="0.65" /><circle cx="214.1" cy="582" r="2.0" fill="#fdfdfd" stroke="#8a8a8a" stroke-width="0.65" /><circle cx="218.9" cy="562.3" r="2.0" fill="#fdfdfd" stroke="#8a8a8a" stroke-width="0.65" /><circle cx="218.9" cy="582" r="2.0" fill="#fdfdfd" stroke="#8a8a8a" stroke-width="0.65" /><circle cx="223.7" cy="562.3" r="2.0" fill="#fdfdfd" stroke="#8a8a8a" stroke-width="0.65" /><circle cx="223.7" cy="582" r="2.0" fill="#fdfdfd" stroke="#8a8a8a" stroke-width="0.65" /><circle cx="228.5" cy="562.3" r="2.0" fill="#fdfdfd" stroke="#8a8a8a" stroke-width="0.65" /><circle cx="228.5" cy="582" r="2.0" fill="#fdfdfd" stroke="#8a8a8a" stroke-width="0.65" /><circle cx="233.3" cy="562.3" r="2.0" fill="#fdfdfd" stroke="#8a8a8a" stroke-width="0.65" /><circle cx="233.3" cy="582" r="2.0" fill="#fdfdfd" stroke="#8a8a8a" stroke-width="0.65" /><circle cx="238.1" cy="562.3" r="2.0" fill="#fdfdfd" stroke="#8a8a8a" stroke-width="0.65" /><circle cx="238.1" cy="582" r="2.0" fill="#fdfdfd" stroke="#8a8a8a" stroke-width="0.65" /><circle cx="242.9" cy="562.3" r="2.0" fill="#fdfdfd" stroke="#8a8a8a" stroke-width="0.65" /><circle cx="242.9" cy="582" r="2.0" fill="#fdfdfd" stroke="#8a8a8a" stroke-width="0.65" /><circle cx="247.7" cy="562.3" r="2.0" fill="#fdfdfd" stroke="#8a8a8a" stroke-width="0.65" /><circle cx="247.7" cy="582" r="2.0" fill="#fdfdfd" stroke="#8a8a8a" stroke-width="0.65" /><circle cx="252.5" cy="562.3" r="2.0" fill="#fdfdfd" stroke="#8a8a8a" stroke-width="0.65" /><circle cx="252.5" cy="582" r="2.0" fill="#fdfdfd" stroke="#8a8a8a" stroke-width="0.65" /><circle cx="257.3" cy="562.3" r="2.0" fill="#fdfdfd" stroke="#8a8a8a" stroke-width="0.65" /><circle cx="257.3" cy="582" r="2.0" fill="#fdfdfd" stroke="#8a8a8a" stroke-width="0.65" /><circle cx="262.1" cy="562.3" r="2.0" fill="#fdfdfd" stroke="#8a8a8a" stroke-width="0.65" /><circle cx="262.1" cy="582" r="2.0" fill="#fdfdfd" stroke="#8a8a8a" stroke-width="0.65" /><circle cx="266.9" cy="562.3" r="2.0" fill="#fdfdfd" stroke="#8a8a8a" stroke-width="0.65" /><circle cx="266.9" cy="582" r="2.0" fill="#fdfdfd" stroke="#8a8a8a" stroke-width="0.65" /><circle cx="271.7" cy="562.3" r="2.0" fill="#fdfdfd" stroke="#8a8a8a" stroke-width="0.65" /><circle cx="271.7" cy="582" r="2.0" fill="#fdfdfd" stroke="#8a8a8a" stroke-width="0.65" /><circle cx="276.5" cy="562.3" r="2.0" fill="#fdfdfd" stroke="#8a8a8a" stroke-width="0.65" /><circle cx="276.5" cy="582" r="2.0" fill="#fdfdfd" stroke="#8a8a8a" stroke-width="0.65" /><circle cx="281.3" cy="562.3" r="2.0" fill="#fdfdfd" stroke="#8a8a8a" stroke-width="0.65" /><circle cx="281.3" cy="582" r="2.0" fill="#fdfdfd" stroke="#8a8a8a" stroke-width="0.65" /><circle cx="286.1" cy="562.3" r="2.0" fill="#fdfdfd" stroke="#8a8a8a" stroke-width="0.65" /><circle cx="286.1" cy="582" r="2.0" fill="#fdfdfd" stroke="#8a8a8a" stroke-width="0.65" /><circle cx="290.9" cy="562.3" r="2.0" fill="#fdfdfd" stroke="#8a8a8a" stroke-width="0.65" /><circle cx="290.9" cy="582" r="2.0" fill="#fdfdfd" stroke="#8a8a8a" stroke-width="0.65" /><circle cx="295.7" cy="562.3" r="2.0" fill="#fdfdfd" stroke="#8a8a8a" stroke-width="0.65" /><circle cx="295.7" cy="582" r="2.0" fill="#fdfdfd" stroke="#8a8a8a" stroke-width="0.65" /><circle cx="300.5" cy="562.3" r="2.0" fill="#fdfdfd" stroke="#8a8a8a" stroke-width="0.65" /><circle cx="300.5" cy="582" r="2.0" fill="#fdfdfd" stroke="#8a8a8a" stroke-width="0.65" /><circle cx="305.3" cy="562.3" r="2.0" fill="#fdfdfd" stroke="#8a8a8a" stroke-width="0.65" /><circle cx="305.3" cy="582" r="2.0" fill="#fdfdfd" stroke="#8a8a8a" stroke-width="0.65" /><circle cx="310.1" cy="562.3" r="2.0" fill="#fdfdfd" stroke="#8a8a8a" stroke-width="0.65" /><circle cx="310.1" cy="582" r="2.0" fill="#fdfdfd" stroke="#8a8a8a" stroke-width="0.65" /><circle cx="314.9" cy="562.3" r="2.0" fill="#fdfdfd" stroke="#8a8a8a" stroke-width="0.65" /><circle cx="314.9" cy="582" r="2.0" fill="#fdfdfd" stroke="#8a8a8a" stroke-width="0.65" /><circle cx="319.7" cy="562.3" r="2.0" fill="#fdfdfd" stroke="#8a8a8a" stroke-width="0.65" /><circle cx="319.7" cy="582" r="2.0" fill="#fdfdfd" stroke="#8a8a8a" stroke-width="0.65" /><circle cx="324.5" cy="562.3" r="2.0" fill="#fdfdfd" stroke="#8a8a8a" stroke-width="0.65" /><circle cx="324.5" cy="582" r="2.0" fill="#fdfdfd" stroke="#8a8a8a" stroke-width="0.65" /><circle cx="329.3" cy="562.3" r="2.0" fill="#fdfdfd" stroke="#8a8a8a" stroke-width="0.65" /><circle cx="329.3" cy="582" r="2.0" fill="#fdfdfd" stroke="#8a8a8a" stroke-width="0.65" /><circle cx="334.1" cy="562.3" r="2.0" fill="#fdfdfd" stroke="#8a8a8a" stroke-width="0.65" /><circle cx="334.1" cy="582" r="2.0" fill="#fdfdfd" stroke="#8a8a8a" stroke-width="0.65" />
<path d="M72.85,555 C72.85,549 76,549.5 79,550.3" fill="none" stroke="#2b5ca6" stroke-width="2.6" />
<path d="M95,550 C99,549.3 103.4,549.5 103.4,555" fill="none" stroke="#2b5ca6" stroke-width="2.6" />
<ellipse cx="87.1" cy="550.5" rx="10" ry="4" fill="#2b5ca6" stroke="none" stroke-width="1" />
<path d="M103.4,590 C103.4,597.6 114.0,597.6 114.0,590" fill="none" stroke="#2b5ca6" stroke-width="2.6" />
<path d="M114.0,556 C114.0,548.2 124.8,548.2 124.8,556" fill="none" stroke="#2b5ca6" stroke-width="2.6" />
<path d="M124.8,590 C124.8,597.6 135.7,597.6 135.7,590" fill="none" stroke="#2b5ca6" stroke-width="2.6" />
<path d="M135.7,556 C135.7,548.2 146.5,548.2 146.5,556" fill="none" stroke="#2b5ca6" stroke-width="2.6" />
<path d="M146.5,590 C146.5,597.6 157.4,597.6 157.4,590" fill="none" stroke="#2b5ca6" stroke-width="2.6" />
<path d="M157.4,556 C157.4,548.2 166.9,548.2 166.9,556" fill="none" stroke="#2b5ca6" stroke-width="2.6" />
<rect x="69.64999999999999" y="553" width="6.4" height="39.3" fill="#2b5ca6" stroke="none" stroke-width="1" rx="1.6" />
<rect x="100.2" y="553" width="6.4" height="39.3" fill="#2b5ca6" stroke="none" stroke-width="1" rx="1.6" />
<rect x="110.8" y="553" width="6.4" height="39.3" fill="#2b5ca6" stroke="none" stroke-width="1" rx="1.6" />
<rect x="121.6" y="553" width="6.4" height="39.3" fill="#2b5ca6" stroke="none" stroke-width="1" rx="1.6" />
<rect x="132.5" y="553" width="6.4" height="39.3" fill="#2b5ca6" stroke="none" stroke-width="1" rx="1.6" />
<rect x="143.3" y="553" width="6.4" height="39.3" fill="#2b5ca6" stroke="none" stroke-width="1" rx="1.6" />
<rect x="154.20000000000002" y="553" width="6.4" height="39.3" fill="#2b5ca6" stroke="none" stroke-width="1" rx="1.6" />
<rect x="163.70000000000002" y="553" width="6.4" height="39.3" fill="#2b5ca6" stroke="none" stroke-width="1" rx="1.6" />
<rect x="71.6" y="591" width="2.6" height="6.3" fill="#2b5ca6" stroke="none" stroke-width="1" rx="0.8" />
<line x1="166.8" y1="592" x2="166.6" y2="603" stroke="#2b5ca6" stroke-width="1.1" />
<line x1="164.3" y1="631" x2="164.6" y2="640" stroke="#2b5ca6" stroke-width="1.1" />
<line x1="163.9" y1="657" x2="164.4" y2="663" stroke="#2b5ca6" stroke-width="1.1" />
<rect x="158.9" y="602.65" width="12.8" height="29.5" rx="5.376" fill="#2b5ca6" stroke="#111" stroke-width="1.3" transform="rotate(6 165.3 617.4)"/>
<rect x="157.65" y="639.0" width="12.5" height="19" rx="5.25" fill="#2b5ca6" stroke="#111" stroke-width="1.3" transform="rotate(-6 163.9 648.5)"/>
<rect x="158.85" y="661.8" width="12.3" height="19" rx="5.166" fill="#2b5ca6" stroke="#111" stroke-width="1.3" transform="rotate(-5 165 671.3)"/>
<text x="29.4" y="602.6" font-size="14.2" font-weight="bold" font-style="normal" fill="#2b5ca6" text-anchor="start" >RetS</text>
<path d="M274.4,556 C274.4,547 285.7,547 285.7,556" fill="none" stroke="#9a82cc" stroke-width="3" />
<rect x="271.09999999999997" y="553" width="6.6" height="39.5" fill="#9a82cc" stroke="none" stroke-width="1" rx="1.6" />
<rect x="282.4" y="553" width="6.6" height="39.5" fill="#9a82cc" stroke="none" stroke-width="1" rx="1.6" />
<line x1="285.7" y1="592" x2="285.9" y2="599" stroke="#9a82cc" stroke-width="1.2" />
<line x1="287.3" y1="625" x2="287.6" y2="632" stroke="#9a82cc" stroke-width="1.1" />
<line x1="288.3" y1="650" x2="288.6" y2="654" stroke="#9a82cc" stroke-width="1.1" />
<rect x="280.1" y="597.7" width="12.8" height="28" rx="5.376" fill="#9a82cc" stroke="#111" stroke-width="1.3" transform="rotate(-5 286.5 611.7)"/>
<rect x="282.0" y="631.55" width="12" height="18.5" rx="5.04" fill="#9a82cc" stroke="#111" stroke-width="1.3" transform="rotate(8 288 640.8)"/>
<rect x="283.45" y="653.35" width="11.5" height="17.5" rx="4.83" fill="#9a82cc" stroke="#111" stroke-width="1.3" transform="rotate(-8 289.2 662.1)"/>
<text x="304.6" y="602.3" font-size="14.2" font-weight="bold" font-style="normal" fill="#9a82cc" text-anchor="start" >GacS</text>
<circle cx="302.2" cy="661.6" r="4.3" fill="#fff" stroke="#111" stroke-width="0.9" />
<text x="302.2" y="664.3" font-size="7.2" font-weight="bold" font-style="normal" fill="#111" text-anchor="middle" >P</text>
<path d="M293.8,670.5 Q295,676 296.8,681" fill="none" stroke="#111" stroke-width="1.1" stroke-dasharray="1.3 1.3"/>
<polygon points="297.8,684.2 294.6,680.6 298.7,679.6" fill="#111"/>
<rect x="294" y="684.5" width="19.5" height="28" rx="7.5" fill="#9a82cc" stroke="#111" stroke-width="1.5" transform="rotate(8 303.7 698.5)"/>
<text x="324.4" y="701.3" font-size="11.3" font-weight="bold" font-style="normal" fill="#9a82cc" text-anchor="start" >GacA</text>
<circle cx="266" cy="696" r="4.3" fill="#fff" stroke="#111" stroke-width="0.9" />
<text x="266" y="698.7" font-size="7.2" font-weight="bold" font-style="normal" fill="#111" text-anchor="middle" >P</text>
<path d="M272,697 Q274,693 276.1,696 T280.2,695" fill="none" stroke="#111" stroke-width="1.3" />
<text x="285.3" y="697.8" font-size="7" font-weight="bold" font-style="normal" fill="#111" text-anchor="middle" >D</text>
<line x1="289" y1="695.6" x2="293.6" y2="695.6" stroke="#111" stroke-width="1" />
<line x1="187.6" y1="639.5" x2="249.1" y2="639.5" stroke="#c0242f" stroke-width="1.7" />
<line x1="249.1" y1="625" x2="249.1" y2="654" stroke="#c0242f" stroke-width="1.7" />
<line x1="256.6" y1="696" x2="240.3" y2="696" stroke="#111" stroke-width="1.6" /><polygon points="237.3,696 242.8,692.8 242.8,699.2" fill="#111"/>
<line x1="176.2" y1="696" x2="159.9" y2="696" stroke="#111" stroke-width="1.6" /><polygon points="156.9,696 162.4,692.8 162.4,699.2" fill="#111"/>
<line x1="104.4" y1="696.6" x2="85.8" y2="696.6" stroke="#111" stroke-width="1.6" /><polygon points="82.8,696.6 88.3,693.4 88.3,699.8000000000001" fill="#111"/>
<text x="26.4" y="700" font-size="11.5" font-weight="bold" font-style="normal" fill="#111" text-anchor="start" >H1-T6SS</text>
<rect x="77.3" y="694.6" width="1.2" height="1.2" fill="#333" stroke="none" stroke-width="1" rx="0" />
<line x1="198.7" y1="682.5" x2="192.1" y2="682.5" stroke="#9ad5e6" stroke-width="0.8" /><line x1="198.7" y1="685.2" x2="192.1" y2="685.2" stroke="#9ad5e6" stroke-width="0.8" /><line x1="196.7" y1="682.5" x2="196.7" y2="685.2" stroke="#55bcc0" stroke-width="0.9" /><line x1="195.1" y1="682.5" x2="195.1" y2="685.2" stroke="#55bcc0" stroke-width="0.9" /><line x1="193.4" y1="682.5" x2="193.4" y2="685.2" stroke="#55bcc0" stroke-width="0.9" /><ellipse cx="188.3" cy="683.9" rx="2.8" ry="4.0" fill="#fff" stroke="#9ad5e6" stroke-width="0.8" transform="rotate(270 188.3 683.9)"/><line x1="201.6" y1="678.3" x2="196.9" y2="673.6" stroke="#9ad5e6" stroke-width="0.8" /><line x1="199.7" y1="680.2" x2="195.0" y2="675.5" stroke="#9ad5e6" stroke-width="0.8" /><line x1="200.2" y1="676.9" x2="198.3" y2="678.8" stroke="#55bcc0" stroke-width="0.9" /><line x1="199.0" y1="675.7" x2="197.1" y2="677.6" stroke="#55bcc0" stroke-width="0.9" /><line x1="197.9" y1="674.5" x2="195.9" y2="676.5" stroke="#55bcc0" stroke-width="0.9" /><ellipse cx="193.3" cy="671.9" rx="2.8" ry="4.0" fill="#fff" stroke="#9ad5e6" stroke-width="0.8" transform="rotate(315 193.3 671.9)"/><line x1="206.7" y1="677.3" x2="206.7" y2="670.7" stroke="#9ad5e6" stroke-width="0.8" /><line x1="204.0" y1="677.3" x2="204.0" y2="670.7" stroke="#9ad5e6" stroke-width="0.8" /><line x1="206.7" y1="675.3" x2="204.0" y2="675.3" stroke="#55bcc0" stroke-width="0.9" /><line x1="206.7" y1="673.7" x2="204.0" y2="673.7" stroke="#55bcc0" stroke-width="0.9" /><line x1="206.7" y1="672.0" x2="204.0" y2="672.0" stroke="#55bcc0" stroke-width="0.9" /><ellipse cx="205.3" cy="666.9" rx="2.8" ry="4.0" fill="#fff" stroke="#9ad5e6" stroke-width="0.8" transform="rotate(360 205.3 666.9)"/><line x1="210.9" y1="680.2" x2="215.6" y2="675.5" stroke="#9ad5e6" stroke-width="0.8" /><line x1="209.0" y1="678.3" x2="213.7" y2="673.6" stroke="#9ad5e6" stroke-width="0.8" /><line x1="212.3" y1="678.8" x2="210.4" y2="676.9" stroke="#55bcc0" stroke-width="0.9" /><line x1="213.5" y1="677.6" x2="211.6" y2="675.7" stroke="#55bcc0" stroke-width="0.9" /><line x1="214.7" y1="676.5" x2="212.7" y2="674.5" stroke="#55bcc0" stroke-width="0.9" /><ellipse cx="217.3" cy="671.9" rx="2.8" ry="4.0" fill="#fff" stroke="#9ad5e6" stroke-width="0.8" transform="rotate(405 217.3 671.9)"/><line x1="211.9" y1="685.2" x2="218.5" y2="685.2" stroke="#9ad5e6" stroke-width="0.8" /><line x1="211.9" y1="682.5" x2="218.5" y2="682.5" stroke="#9ad5e6" stroke-width="0.8" /><line x1="213.9" y1="685.2" x2="213.9" y2="682.5" stroke="#55bcc0" stroke-width="0.9" /><line x1="215.5" y1="685.2" x2="215.5" y2="682.5" stroke="#55bcc0" stroke-width="0.9" /><line x1="217.2" y1="685.2" x2="217.2" y2="682.5" stroke="#55bcc0" stroke-width="0.9" /><ellipse cx="222.3" cy="683.9" rx="2.8" ry="4.0" fill="#fff" stroke="#9ad5e6" stroke-width="0.8" transform="rotate(90 222.3 683.9)"/><line x1="198.7" y1="682.5" x2="199.7" y2="680.2" stroke="#9ad5e6" stroke-width="0.8" /><line x1="201.6" y1="678.3" x2="204.0" y2="677.3" stroke="#9ad5e6" stroke-width="0.8" /><line x1="206.7" y1="677.3" x2="209.0" y2="678.3" stroke="#9ad5e6" stroke-width="0.8" /><line x1="210.9" y1="680.2" x2="211.9" y2="682.5" stroke="#9ad5e6" stroke-width="0.8" /><path d="M198.7,685.2 L199.1,691.4 L190.1,701.4" fill="none" stroke="#9ad5e6" stroke-width="0.8" /><path d="M211.9,685.2 L211.5,691.4 L220.5,701.4" fill="none" stroke="#9ad5e6" stroke-width="0.8" />
<line x1="198.7" y1="723.9" x2="192.1" y2="723.9" stroke="#9ad5e6" stroke-width="0.8" /><line x1="198.7" y1="726.6" x2="192.1" y2="726.6" stroke="#9ad5e6" stroke-width="0.8" /><line x1="196.7" y1="723.9" x2="196.7" y2="726.6" stroke="#55bcc0" stroke-width="0.9" /><line x1="195.1" y1="723.9" x2="195.1" y2="726.6" stroke="#55bcc0" stroke-width="0.9" /><line x1="193.4" y1="723.9" x2="193.4" y2="726.6" stroke="#55bcc0" stroke-width="0.9" /><ellipse cx="188.3" cy="725.3" rx="2.8" ry="4.0" fill="#fff" stroke="#9ad5e6" stroke-width="0.8" transform="rotate(270 188.3 725.3)"/><line x1="201.6" y1="719.7" x2="196.9" y2="715.0" stroke="#9ad5e6" stroke-width="0.8" /><line x1="199.7" y1="721.6" x2="195.0" y2="716.9" stroke="#9ad5e6" stroke-width="0.8" /><line x1="200.2" y1="718.3" x2="198.3" y2="720.2" stroke="#55bcc0" stroke-width="0.9" /><line x1="199.0" y1="717.1" x2="197.1" y2="719.0" stroke="#55bcc0" stroke-width="0.9" /><line x1="197.9" y1="715.9" x2="195.9" y2="717.9" stroke="#55bcc0" stroke-width="0.9" /><ellipse cx="193.3" cy="713.3" rx="2.8" ry="4.0" fill="#fff" stroke="#9ad5e6" stroke-width="0.8" transform="rotate(315 193.3 713.3)"/><line x1="206.7" y1="718.7" x2="206.7" y2="712.1" stroke="#9ad5e6" stroke-width="0.8" /><line x1="204.0" y1="718.7" x2="204.0" y2="712.1" stroke="#9ad5e6" stroke-width="0.8" /><line x1="206.7" y1="716.7" x2="204.0" y2="716.7" stroke="#55bcc0" stroke-width="0.9" /><line x1="206.7" y1="715.1" x2="204.0" y2="715.1" stroke="#55bcc0" stroke-width="0.9" /><line x1="206.7" y1="713.4" x2="204.0" y2="713.4" stroke="#55bcc0" stroke-width="0.9" /><ellipse cx="205.3" cy="708.3" rx="2.8" ry="4.0" fill="#fff" stroke="#9ad5e6" stroke-width="0.8" transform="rotate(360 205.3 708.3)"/><line x1="210.9" y1="721.6" x2="215.6" y2="716.9" stroke="#9ad5e6" stroke-width="0.8" /><line x1="209.0" y1="719.7" x2="213.7" y2="715.0" stroke="#9ad5e6" stroke-width="0.8" /><line x1="212.3" y1="720.2" x2="210.4" y2="718.3" stroke="#55bcc0" stroke-width="0.9" /><line x1="213.5" y1="719.0" x2="211.6" y2="717.1" stroke="#55bcc0" stroke-width="0.9" /><line x1="214.7" y1="717.9" x2="212.7" y2="715.9" stroke="#55bcc0" stroke-width="0.9" /><ellipse cx="217.3" cy="713.3" rx="2.8" ry="4.0" fill="#fff" stroke="#9ad5e6" stroke-width="0.8" transform="rotate(405 217.3 713.3)"/><line x1="211.9" y1="726.6" x2="218.5" y2="726.6" stroke="#9ad5e6" stroke-width="0.8" /><line x1="211.9" y1="723.9" x2="218.5" y2="723.9" stroke="#9ad5e6" stroke-width="0.8" /><line x1="213.9" y1="726.6" x2="213.9" y2="723.9" stroke="#55bcc0" stroke-width="0.9" /><line x1="215.5" y1="726.6" x2="215.5" y2="723.9" stroke="#55bcc0" stroke-width="0.9" /><line x1="217.2" y1="726.6" x2="217.2" y2="723.9" stroke="#55bcc0" stroke-width="0.9" /><ellipse cx="222.3" cy="725.3" rx="2.8" ry="4.0" fill="#fff" stroke="#9ad5e6" stroke-width="0.8" transform="rotate(90 222.3 725.3)"/><line x1="198.7" y1="723.9" x2="199.7" y2="721.6" stroke="#9ad5e6" stroke-width="0.8" /><line x1="201.6" y1="719.7" x2="204.0" y2="718.7" stroke="#9ad5e6" stroke-width="0.8" /><line x1="206.7" y1="718.7" x2="209.0" y2="719.7" stroke="#9ad5e6" stroke-width="0.8" /><line x1="210.9" y1="721.6" x2="211.9" y2="723.9" stroke="#9ad5e6" stroke-width="0.8" /><path d="M198.7,726.6 L199.1,732.8 L190.1,742.8" fill="none" stroke="#9ad5e6" stroke-width="0.8" /><path d="M211.9,726.6 L211.5,732.8 L220.5,742.8" fill="none" stroke="#9ad5e6" stroke-width="0.8" />
<line x1="120.0" y1="693.9" x2="113.4" y2="693.9" stroke="#9ad5e6" stroke-width="0.8" /><line x1="120.0" y1="696.6" x2="113.4" y2="696.6" stroke="#9ad5e6" stroke-width="0.8" /><line x1="118.0" y1="693.9" x2="118.0" y2="696.6" stroke="#55bcc0" stroke-width="0.9" /><line x1="116.4" y1="693.9" x2="116.4" y2="696.6" stroke="#55bcc0" stroke-width="0.9" /><line x1="114.7" y1="693.9" x2="114.7" y2="696.6" stroke="#55bcc0" stroke-width="0.9" /><ellipse cx="109.6" cy="695.3" rx="2.8" ry="4.0" fill="#fff" stroke="#9ad5e6" stroke-width="0.8" transform="rotate(270 109.6 695.3)"/><line x1="122.9" y1="689.7" x2="118.2" y2="685.0" stroke="#9ad5e6" stroke-width="0.8" /><line x1="121.0" y1="691.6" x2="116.3" y2="686.9" stroke="#9ad5e6" stroke-width="0.8" /><line x1="121.5" y1="688.3" x2="119.6" y2="690.2" stroke="#55bcc0" stroke-width="0.9" /><line x1="120.3" y1="687.1" x2="118.4" y2="689.0" stroke="#55bcc0" stroke-width="0.9" /><line x1="119.2" y1="685.9" x2="117.2" y2="687.9" stroke="#55bcc0" stroke-width="0.9" /><ellipse cx="114.6" cy="683.3" rx="2.8" ry="4.0" fill="#fff" stroke="#9ad5e6" stroke-width="0.8" transform="rotate(315 114.6 683.3)"/><line x1="127.9" y1="688.7" x2="127.9" y2="682.1" stroke="#9ad5e6" stroke-width="0.8" /><line x1="125.2" y1="688.7" x2="125.2" y2="682.1" stroke="#9ad5e6" stroke-width="0.8" /><line x1="127.9" y1="686.7" x2="125.2" y2="686.7" stroke="#55bcc0" stroke-width="0.9" /><line x1="127.9" y1="685.1" x2="125.2" y2="685.1" stroke="#55bcc0" stroke-width="0.9" /><line x1="127.9" y1="683.4" x2="125.2" y2="683.4" stroke="#55bcc0" stroke-width="0.9" /><ellipse cx="126.6" cy="678.3" rx="2.8" ry="4.0" fill="#fff" stroke="#9ad5e6" stroke-width="0.8" transform="rotate(360 126.6 678.3)"/><line x1="132.2" y1="691.6" x2="136.9" y2="686.9" stroke="#9ad5e6" stroke-width="0.8" /><line x1="130.3" y1="689.7" x2="135.0" y2="685.0" stroke="#9ad5e6" stroke-width="0.8" /><line x1="133.6" y1="690.2" x2="131.7" y2="688.3" stroke="#55bcc0" stroke-width="0.9" /><line x1="134.8" y1="689.0" x2="132.9" y2="687.1" stroke="#55bcc0" stroke-width="0.9" /><line x1="136.0" y1="687.9" x2="134.0" y2="685.9" stroke="#55bcc0" stroke-width="0.9" /><ellipse cx="138.6" cy="683.3" rx="2.8" ry="4.0" fill="#fff" stroke="#9ad5e6" stroke-width="0.8" transform="rotate(405 138.6 683.3)"/><line x1="133.2" y1="696.6" x2="139.8" y2="696.6" stroke="#9ad5e6" stroke-width="0.8" /><line x1="133.2" y1="693.9" x2="139.8" y2="693.9" stroke="#9ad5e6" stroke-width="0.8" /><line x1="135.2" y1="696.6" x2="135.2" y2="693.9" stroke="#55bcc0" stroke-width="0.9" /><line x1="136.8" y1="696.6" x2="136.8" y2="693.9" stroke="#55bcc0" stroke-width="0.9" /><line x1="138.5" y1="696.6" x2="138.5" y2="693.9" stroke="#55bcc0" stroke-width="0.9" /><ellipse cx="143.6" cy="695.3" rx="2.8" ry="4.0" fill="#fff" stroke="#9ad5e6" stroke-width="0.8" transform="rotate(90 143.6 695.3)"/><line x1="120.0" y1="693.9" x2="121.0" y2="691.6" stroke="#9ad5e6" stroke-width="0.8" /><line x1="122.9" y1="689.7" x2="125.2" y2="688.7" stroke="#9ad5e6" stroke-width="0.8" /><line x1="127.9" y1="688.7" x2="130.3" y2="689.7" stroke="#9ad5e6" stroke-width="0.8" /><line x1="132.2" y1="691.6" x2="133.2" y2="693.9" stroke="#9ad5e6" stroke-width="0.8" /><path d="M120.0,696.6 L120.4,702.8 L111.4,712.8" fill="none" stroke="#9ad5e6" stroke-width="0.8" /><path d="M133.2,696.6 L132.8,702.8 L141.8,712.8" fill="none" stroke="#9ad5e6" stroke-width="0.8" />
<text x="205.6" y="700.2" font-size="9.4" font-weight="normal" font-style="italic" fill="#333" text-anchor="middle" >rsm<tspan>Y</tspan></text>
<text x="205.6" y="745.2" font-size="9.4" font-weight="normal" font-style="italic" fill="#333" text-anchor="middle" >rsm<tspan>Z</tspan></text>
<ellipse cx="127.1" cy="721" rx="30.5" ry="10.4" fill="#f2cbe0" stroke="#111" stroke-width="1.4" />
<text x="127.3" y="724.3" font-size="9" font-weight="normal" font-style="normal" fill="#222" text-anchor="middle" >RsmA/F</text>
</g>
<g id="panel_d">
<text x="578.5" y="34" font-size="11.7" font-weight="bold" font-style="normal" fill="#222" text-anchor="middle" >Levels of H1-T6SS transcripts</text>
<text x="579" y="48.5" font-size="11.5" font-weight="bold" font-style="normal" fill="#222" text-anchor="middle" >with mucus</text>
<text x="474.3" y="139" font-size="11.5" font-weight="normal" font-style="normal" fill="#222" text-anchor="middle" transform="rotate(-90 474.3 139)" >log<tspan font-size="7.5" dy="2">2</tspan><tspan dy="-2">(Fold change)</tspan></text>
<text x="488.7" y="138" font-size="11.25" font-weight="normal" font-style="normal" fill="#222" text-anchor="middle" transform="rotate(-90 488.7 138)" >relative to mucin-depleted mucus</text>
<line x1="509.8" y1="64.2" x2="509.8" y2="204.9" stroke="#111" stroke-width="1.6" />
<line x1="509" y1="204.1" x2="650" y2="204.1" stroke="#111" stroke-width="1.7" />
<line x1="503.3" y1="65.0" x2="509.8" y2="65.0" stroke="#111" stroke-width="1.6" />
<text x="501.5" y="68.4" font-size="10" font-weight="bold" font-style="normal" fill="#111" text-anchor="end" >0</text>
<line x1="503.3" y1="99.75" x2="509.8" y2="99.75" stroke="#111" stroke-width="1.6" />
<text x="501.5" y="103.15" font-size="10" font-weight="bold" font-style="normal" fill="#111" text-anchor="end" >-1</text>
<line x1="503.3" y1="134.5" x2="509.8" y2="134.5" stroke="#111" stroke-width="1.6" />
<text x="501.5" y="137.9" font-size="10" font-weight="bold" font-style="normal" fill="#111" text-anchor="end" >-2</text>
<line x1="503.3" y1="169.25" x2="509.8" y2="169.25" stroke="#111" stroke-width="1.6" />
<text x="501.5" y="172.65" font-size="10" font-weight="bold" font-style="normal" fill="#111" text-anchor="end" >-3</text>
<line x1="503.3" y1="204.0" x2="509.8" y2="204.0" stroke="#111" stroke-width="1.6" />
<text x="501.5" y="207.4" font-size="10" font-weight="bold" font-style="normal" fill="#111" text-anchor="end" >-4</text>
<line x1="542" y1="204" x2="542" y2="210" stroke="#111" stroke-width="1.6" />
<text x="542" y="221.5" font-size="10.5" font-weight="normal" font-style="italic" fill="#222" text-anchor="middle" >clpV1</text>
<line x1="615" y1="204" x2="615" y2="210" stroke="#111" stroke-width="1.6" />
<text x="615" y="221.5" font-size="10.5" font-weight="normal" font-style="italic" fill="#222" text-anchor="middle" >icmF1</text>
<line x1="511" y1="65.0" x2="650" y2="65.0" stroke="#111" stroke-width="1.6" stroke-dasharray="1.6 3.2"/>
<path d="M516.8,65.0 V140.45 H528.9 V65.0" fill="none" stroke="#111" stroke-width="2.1" />
<path d="M557,65.0 V133.5 H568.4 V65.0" fill="none" stroke="#111" stroke-width="2.1" />
<path d="M590.5,65.0 V140.45 H601.6 V65.0" fill="none" stroke="#111" stroke-width="2.1" />
<path d="M629,65.0 V103.9625 H642 V65.0" fill="none" stroke="#111" stroke-width="2.1" />
<rect x="535.9" y="62.4" width="13.6" height="5.2" fill="#111" stroke="none" stroke-width="1" rx="0" />
<rect x="608.8" y="62.4" width="14" height="5.2" fill="#111" stroke="none" stroke-width="1" rx="0" />
<line x1="522.9" y1="132.4" x2="522.9" y2="151.1" stroke="#111" stroke-width="1" /><line x1="519.4" y1="132.4" x2="526.4" y2="132.4" stroke="#111" stroke-width="1" /><line x1="519.4" y1="151.1" x2="526.4" y2="151.1" stroke="#111" stroke-width="1" />
<line x1="562.8" y1="116.3" x2="562.8" y2="152.1" stroke="#111" stroke-width="1" /><line x1="559.3" y1="116.3" x2="566.3" y2="116.3" stroke="#111" stroke-width="1" /><line x1="559.3" y1="152.1" x2="566.3" y2="152.1" stroke="#111" stroke-width="1" />
<line x1="596" y1="135" x2="596" y2="149" stroke="#111" stroke-width="1" /><line x1="592.5" y1="135" x2="599.5" y2="135" stroke="#111" stroke-width="1" /><line x1="592.5" y1="149" x2="599.5" y2="149" stroke="#111" stroke-width="1" />
<line x1="635.5" y1="103" x2="635.5" y2="107.7" stroke="#111" stroke-width="1" /><line x1="632.5" y1="103" x2="638.5" y2="103" stroke="#111" stroke-width="1" /><line x1="632.5" y1="107.7" x2="638.5" y2="107.7" stroke="#111" stroke-width="1" />
<circle cx="519.6" cy="135.7" r="2.9" fill="#111" stroke="none" stroke-width="1" />
<circle cx="525.9" cy="130" r="2.9" fill="#111" stroke="none" stroke-width="1" />
<circle cx="522.9" cy="160.2" r="2.9" fill="#111" stroke="none" stroke-width="1" />
<circle cx="596" cy="131" r="2.9" fill="#111" stroke="none" stroke-width="1" />
<circle cx="596" cy="144.1" r="2.9" fill="#111" stroke="none" stroke-width="1" />
<circle cx="596" cy="153.1" r="2.9" fill="#111" stroke="none" stroke-width="1" />
<rect x="520.2" y="132.8" width="5" height="5.5" fill="#fff" stroke="#111" stroke-width="0.8" rx="0" />
<polygon points="562.8,105.69999999999999 559.9,110.91999999999999 565.6999999999999,110.91999999999999" fill="#111"/>
<polygon points="562.8,124.1 559.9,129.32 565.6999999999999,129.32" fill="#111"/>
<polygon points="562.8,165.9 559.9,171.12 565.6999999999999,171.12" fill="#111"/>
<polygon points="635.5,96.39999999999999 632.6,101.61999999999999 638.4,101.61999999999999" fill="#111"/>
<polygon points="631.4,107.6 628.5,112.82 634.3,112.82" fill="#111"/>
<polygon points="639.3,107.6 636.4,112.82 642.1999999999999,112.82" fill="#111"/>
<circle cx="606.9" cy="153.8" r="3.3" fill="#111" stroke="none" stroke-width="1" />
<text x="613" y="157.4" font-size="10.5" font-weight="normal" font-style="normal" fill="#111" text-anchor="start" >Whole mucus</text>
<rect x="604" y="166.4" width="6" height="6" fill="#111" stroke="none" stroke-width="1" rx="0" />
<text x="613" y="173" font-size="10.5" font-weight="normal" font-style="normal" fill="#111" text-anchor="start" >Mucin-depleted mucus</text>
<polygon points="606.9,181.0 603.6999999999999,186.76 610.1,186.76" fill="#111"/>
<text x="613" y="188.4" font-size="10.5" font-weight="normal" font-style="normal" fill="#111" text-anchor="start" >Mucin-depleted mucus+</text>
<text x="613" y="201.4" font-size="10.5" font-weight="normal" font-style="normal" fill="#111" text-anchor="start" >0.5% mucin</text>
</g>
<g id="panel_e">
<text x="585.6" y="254.5" font-size="12" font-weight="bold" font-style="normal" fill="#222" text-anchor="middle" >RNA-seq analysis of H1-T6SS locus with purified mucin</text>
<path d="M386,291 L393,286.0 L406.7,286.0 L406.7,296.0 L393,296.0 Z" fill="#c9c9f7" stroke="#2a2a6a" stroke-width="0.8" stroke-linejoin="miter"/>
<path d="M409.5,291 L419.0,286.0 L447.2,286.0 L447.2,296.0 L419.0,296.0 Z" fill="#b9b9f5" stroke="#2a2a6a" stroke-width="0.8" stroke-linejoin="miter"/>
<path d="M448.3,291 L458.3,286.0 L474.4,286.0 L474.4,296.0 L458.3,296.0 Z" fill="#4a4ae6" stroke="#2a2a6a" stroke-width="0.8" stroke-linejoin="miter"/>
<path d="M475.8,291 L483.40000000000003,286.0 L490.4,286.0 L490.4,296.0 L483.40000000000003,296.0 Z" fill="#7474ea" stroke="#2a2a6a" stroke-width="0.8" stroke-linejoin="miter"/>
<path d="M491.4,291 L501.4,286.0 L560.8,286.0 L560.8,296.0 L501.4,296.0 Z" fill="#a2a2f2" stroke="#2a2a6a" stroke-width="0.8" stroke-linejoin="miter"/>
<path d="M561.8,291 L569.3,286.0 L577.3,286.0 L577.3,296.0 L569.3,296.0 Z" fill="#9c9cf0" stroke="#2a2a6a" stroke-width="0.8" stroke-linejoin="miter"/>
<path d="M578.9,291 L585.6999999999999,286.0 L593,286.0 L593,296.0 L585.6999999999999,296.0 Z" fill="#6c6ce8" stroke="#2a2a6a" stroke-width="0.8" stroke-linejoin="miter"/>
<path d="M594,291 L603.4,286.0 L668.7,286.0 L668.7,296.0 L603.4,296.0 Z" fill="#9494ef" stroke="#2a2a6a" stroke-width="0.8" stroke-linejoin="miter"/>
<path d="M672.7,291 L683.2,286.0 L703.7,286.0 L703.7,296.0 L683.2,296.0 Z" fill="#8484ec" stroke="#2a2a6a" stroke-width="0.8" stroke-linejoin="miter"/>
<path d="M704.7,291 L715.3000000000001,286.0 L734.4,286.0 L734.4,296.0 L715.3000000000001,296.0 Z" fill="#8787ed" stroke="#2a2a6a" stroke-width="0.8" stroke-linejoin="miter"/>
<path d="M735,291 L739.8,286.0 L744.4,286.0 L744.4,296.0 L739.8,296.0 Z" fill="#8c8cee" stroke="#2a2a6a" stroke-width="0.8" stroke-linejoin="miter"/>
<path d="M746.4,291 L756.5,286.0 L756.5,286.0 L756.5,296.0 L756.5,296.0 Z" fill="#8282ec" stroke="#2a2a6a" stroke-width="0.8" stroke-linejoin="miter"/>
<path d="M758.5,291 L768.5,286.0 L779.6,286.0 L779.6,296.0 L768.5,296.0 Z" fill="#c4c4f6" stroke="#2a2a6a" stroke-width="0.8" stroke-linejoin="miter"/>
<text x="396.8" y="305.3" font-size="9.2" font-weight="normal" font-style="italic" fill="#2b2b2b" text-anchor="middle" >tagQ1</text>
<text x="431.4" y="305.3" font-size="9.2" font-weight="normal" font-style="italic" fill="#2b2b2b" text-anchor="middle" >tagR1</text>
<text x="463.3" y="305.3" font-size="9.2" font-weight="normal" font-style="italic" fill="#2b2b2b" text-anchor="middle" >tagS1</text>
<text x="487.2" y="305.3" font-size="9.2" font-weight="normal" font-style="italic" fill="#2b2b2b" text-anchor="middle" >tagT1</text>
<text x="531.7" y="305.3" font-size="9.2" font-weight="normal" font-style="italic" fill="#2b2b2b" text-anchor="middle" >ppkA</text>
<text x="570.3" y="305.3" font-size="9.2" font-weight="normal" font-style="italic" fill="#2b2b2b" text-anchor="middle" >pppA</text>
<text x="593.6" y="305.3" font-size="9.2" font-weight="normal" font-style="italic" fill="#2b2b2b" text-anchor="middle" >tagF1</text>
<text x="636.7" y="305.3" font-size="9.2" font-weight="normal" font-style="italic" fill="#c4c4c4" text-anchor="middle" >icmF1</text>
<text x="692.6" y="305.3" font-size="9.2" font-weight="normal" font-style="italic" fill="#c4c4c4" text-anchor="middle" >tssL1</text>
<text x="724.1" y="305.3" font-size="9.2" font-weight="normal" font-style="italic" fill="#6b3a1f" text-anchor="middle" >tssK1</text>
<text x="737.5" y="303" font-size="9.2" font-weight="normal" font-style="italic" fill="#c4c4c4" text-anchor="start" transform="rotate(45 737.5 303)" >tssJ1</text>
<text x="749.5" y="304" font-size="9.2" font-weight="normal" font-style="italic" fill="#2b2b2b" text-anchor="start" transform="rotate(42 749.5 304)" >970</text>
<text x="769.5" y="302.5" font-size="9.2" font-weight="normal" font-style="italic" fill="#2b2b2b" text-anchor="start" transform="rotate(42 769.5 302.5)" >fha1</text>
<path d="M414,325 L405,320.3 L388,320.3 L388,329.7 L405,329.7 Z" fill="#8282ec" stroke="#2a2a6a" stroke-width="0.8" stroke-linejoin="miter"/>
<path d="M430.2,325 L420.7,320.3 L417,320.3 L417,329.7 L420.7,329.7 Z" fill="#9292ef" stroke="#2a2a6a" stroke-width="0.8" stroke-linejoin="miter"/>
<path d="M468.3,325 L460.3,320.3 L431.2,320.3 L431.2,329.7 L460.3,329.7 Z" fill="#aaaaf3" stroke="#2a2a6a" stroke-width="0.8" stroke-linejoin="miter"/>
<path d="M483.4,325 L471.0,320.3 L471,320.3 L471,329.7 L471.0,329.7 Z" fill="#5858e8" stroke="#2a2a6a" stroke-width="0.8" stroke-linejoin="miter"/>
<path d="M508.5,325 L500.5,320.3 L488.4,320.3 L488.4,329.7 L500.5,329.7 Z" fill="#8a8aee" stroke="#2a2a6a" stroke-width="0.8" stroke-linejoin="miter"/>
<path d="M521.5,325 L512.5,320.3 L510.5,320.3 L510.5,329.7 L512.5,329.7 Z" fill="#9292ef" stroke="#2a2a6a" stroke-width="0.8" stroke-linejoin="miter"/>
<path d="M569.3,325 L560.1999999999999,320.3 L522.7,320.3 L522.7,329.7 L560.1999999999999,329.7 Z" fill="#8282ec" stroke="#2a2a6a" stroke-width="0.8" stroke-linejoin="miter"/>
<path d="M596.4,325 L588.3,320.3 L570.3,320.3 L570.3,329.7 L588.3,329.7 Z" fill="#8787ed" stroke="#2a2a6a" stroke-width="0.8" stroke-linejoin="miter"/>
<path d="M666.1,325 L657.0,320.3 L597.4,320.3 L597.4,329.7 L657.0,329.7 Z" fill="#a2a2f1" stroke="#2a2a6a" stroke-width="0.8" stroke-linejoin="miter"/>
<path d="M716.3,325 L706.3,320.3 L667.5,320.3 L667.5,329.7 L706.3,329.7 Z" fill="#8282ec" stroke="#2a2a6a" stroke-width="0.8" stroke-linejoin="miter"/>
<path d="M720.3,320.3 H727 V329.7 H720.3 Z" fill="#b2b2f4" stroke="#2a2a6a" stroke-width="0.8" stroke-linejoin="miter"/>
<path d="M728.4,320.3 H733.4 V329.7 H728.4 Z" fill="#cacaf8" stroke="#2a2a6a" stroke-width="0.8" stroke-linejoin="miter"/>
<path d="M734.8,325 L743.4,320.3 L766.5,320.3 L766.5,329.7 L743.4,329.7 Z" fill="#c2c2f6" stroke="#2a2a6a" stroke-width="0.8" stroke-linejoin="miter"/>
<path d="M768,325 L773.5,320.3 L779.2,320.3 L779.2,329.7 L773.5,329.7 Z" fill="#8a8aee" stroke="#2a2a6a" stroke-width="0.8" stroke-linejoin="miter"/>
<text x="398" y="338" font-size="9.2" font-weight="normal" font-style="italic" fill="#7a4a2a" text-anchor="middle" >tssA1</text>
<text x="423.6" y="338" font-size="9.2" font-weight="normal" font-style="italic" fill="#8fcf9a" text-anchor="middle" >tssB1</text>
<text x="449.3" y="338" font-size="9.2" font-weight="normal" font-style="italic" fill="#8fcf9a" text-anchor="middle" >tssC1</text>
<text x="547.4" y="338" font-size="9.2" font-weight="normal" font-style="italic" fill="#7a4a2a" text-anchor="middle" >tssF1</text>
<text x="586.7" y="338" font-size="9.2" font-weight="normal" font-style="italic" fill="#7a4a2a" text-anchor="middle" >tssG1</text>
<text x="633.1" y="338" font-size="9.2" font-weight="normal" font-style="italic" fill="#3a3a3a" text-anchor="middle" >clpV1</text>
<text x="690.2" y="338" font-size="9.2" font-weight="normal" font-style="italic" fill="#e08a2e" text-anchor="middle" >vgrG1a</text>
<text x="753.9" y="338" font-size="9.2" font-weight="normal" font-style="italic" fill="#2b2b2b" text-anchor="middle" >tse6</text>
<text x="780.6" y="338" font-size="9.2" font-weight="normal" font-style="italic" fill="#2b2b2b" text-anchor="middle" >eagT6</text>
<text x="469.5" y="336.5" font-size="9.2" font-weight="normal" font-style="italic" fill="#8fcf9a" text-anchor="start" transform="rotate(48 469.5 336.5)" >hcp1</text>
<text x="489.5" y="336" font-size="9.2" font-weight="normal" font-style="italic" fill="#2b2b2b" text-anchor="start" transform="rotate(45 489.5 336)" >tagJ1</text>
<text x="512" y="335.5" font-size="9.2" font-weight="normal" font-style="italic" fill="#7a4a2a" text-anchor="start" transform="rotate(45 512 335.5)" >tssE1</text>
<text x="719" y="336" font-size="9.2" font-weight="normal" font-style="italic" fill="#2b2b2b" text-anchor="start" transform="rotate(50 719 336)" >tsi6</text>
<text x="729" y="335" font-size="9.2" font-weight="normal" font-style="italic" fill="#2b2b2b" text-anchor="start" transform="rotate(42 729 335)" >1130</text>
<text x="588.4" y="371.8" font-size="11.7" font-weight="bold" font-style="normal" fill="#222" text-anchor="middle" >RNA-seq analysis of housekeeping genes with mucin</text>
<path d="M493.6,392.7 L480.1,387.7 L422.6,387.7 L422.6,397.7 L480.1,397.7 Z" fill="#f7eaea" stroke="#444" stroke-width="0.8" stroke-linejoin="miter"/>
<path d="M560,392.7 L548,387.7 L513,387.7 L513,397.7 L548,397.7 Z" fill="url(#gmut)" stroke="#444" stroke-width="0.8" stroke-linejoin="miter"/>
<path d="M648.5,392.7 L635.8,387.7 L578,387.7 L578,397.7 L635.8,397.7 Z" fill="#ffffff" stroke="#444" stroke-width="0.8" stroke-linejoin="miter"/>
<path d="M702.7,392.7 L690.0,387.7 L654,387.7 L654,397.7 L690.0,397.7 Z" fill="url(#grpo)" stroke="#444" stroke-width="0.8" stroke-linejoin="miter"/>
<path d="M751,392.7 L738.8,387.7 L713.5,387.7 L713.5,397.7 L738.8,397.7 Z" fill="#ffffff" stroke="#444" stroke-width="0.8" stroke-linejoin="miter"/>
<text x="454.3" y="410" font-size="8.6" font-weight="normal" font-style="italic" fill="#333" text-anchor="middle" >gyrA</text>
<text x="534.2" y="410" font-size="8.6" font-weight="normal" font-style="italic" fill="#333" text-anchor="middle" >mutL</text>
<text x="611" y="410" font-size="8.6" font-weight="normal" font-style="italic" fill="#333" text-anchor="middle" >ppsA</text>
<text x="676.5" y="410" font-size="8.6" font-weight="normal" font-style="italic" fill="#333" text-anchor="middle" >rpoD</text>
<text x="729.8" y="410" font-size="8.6" font-weight="normal" font-style="italic" fill="#333" text-anchor="middle" >rpoN</text>
<rect x="476.8" y="419.8" width="205.6" height="17.4" fill="url(#gbar)" stroke="#111" stroke-width="1.4" rx="0" />
<line x1="511.3" y1="420.4" x2="511.3" y2="422.4" stroke="#111" stroke-width="1.2" />
<line x1="511.3" y1="434.6" x2="511.3" y2="436.6" stroke="#111" stroke-width="1.2" />
<line x1="579.6" y1="420.4" x2="579.6" y2="422.4" stroke="#111" stroke-width="1.2" />
<line x1="579.6" y1="434.6" x2="579.6" y2="436.6" stroke="#111" stroke-width="1.2" />
<line x1="647.8" y1="420.4" x2="647.8" y2="422.4" stroke="#111" stroke-width="1.2" />
<line x1="647.8" y1="434.6" x2="647.8" y2="436.6" stroke="#111" stroke-width="1.2" />
<text x="507.90000000000003" y="440" font-size="10" font-weight="normal" font-style="normal" fill="#222" text-anchor="start" transform="rotate(90 507.90000000000003 440)" >-2</text>
<text x="576.2" y="440" font-size="10" font-weight="normal" font-style="normal" fill="#222" text-anchor="start" transform="rotate(90 576.2 440)" >0</text>
<text x="644.4" y="440" font-size="10" font-weight="normal" font-style="normal" fill="#222" text-anchor="start" transform="rotate(90 644.4 440)" >2</text>
<text x="583.2" y="458.6" font-size="10" font-weight="normal" font-style="normal" fill="#222" text-anchor="middle" >log<tspan font-size="6.5" dy="2">2</tspan><tspan dy="-2">(Fold change)</tspan></text>
<text x="583.7" y="470.2" font-size="10" font-weight="normal" font-style="normal" fill="#222" text-anchor="middle" >relative to media alone</text>
</g>
<g id="panel_f">
<text x="585.6" y="506.6" font-size="11.7" font-weight="bold" font-style="normal" fill="#222" text-anchor="middle" >Levels of H1-T6SS transcripts in GacS/RetS pathway mutants</text>
<text x="586.4" y="520.4" font-size="11.7" font-weight="bold" font-style="normal" fill="#222" text-anchor="middle" >with purified mucin</text>
<text x="386" y="616.8" font-size="11.5" font-weight="normal" font-style="normal" fill="#222" text-anchor="middle" transform="rotate(-90 386 616.8)" >log<tspan font-size="7.5" dy="2">2</tspan><tspan dy="-2">(Fold change)</tspan></text>
<text x="402.2" y="616" font-size="11.55" font-weight="normal" font-style="normal" fill="#222" text-anchor="middle" transform="rotate(-90 402.2 616)" >relative to media alone</text>
<line x1="422.5" y1="512.7" x2="422.5" y2="716" stroke="#111" stroke-width="1.8" />
<line x1="421.6" y1="715.1" x2="728" y2="715.1" stroke="#111" stroke-width="1.9" />
<line x1="415.7" y1="513.6" x2="422.5" y2="513.6" stroke="#111" stroke-width="1.7" />
<text x="413.5" y="517.2" font-size="10" font-weight="bold" font-style="normal" fill="#111" text-anchor="end" >1</text>
<line x1="415.7" y1="563.9" x2="422.5" y2="563.9" stroke="#111" stroke-width="1.7" />
<text x="413.5" y="567.5" font-size="10" font-weight="bold" font-style="normal" fill="#111" text-anchor="end" >0</text>
<line x1="415.7" y1="614.1999999999999" x2="422.5" y2="614.1999999999999" stroke="#111" stroke-width="1.7" />
<text x="413.5" y="617.8" font-size="10" font-weight="bold" font-style="normal" fill="#111" text-anchor="end" >-1</text>
<line x1="415.7" y1="664.5" x2="422.5" y2="664.5" stroke="#111" stroke-width="1.7" />
<text x="413.5" y="668.1" font-size="10" font-weight="bold" font-style="normal" fill="#111" text-anchor="end" >-2</text>
<line x1="415.7" y1="714.8" x2="422.5" y2="714.8" stroke="#111" stroke-width="1.7" />
<text x="413.5" y="718.4" font-size="10" font-weight="bold" font-style="normal" fill="#111" text-anchor="end" >-3</text>
<line x1="497" y1="715" x2="497" y2="722.5" stroke="#111" stroke-width="1.7" />
<text x="498.6" y="735" font-size="12" font-weight="normal" font-style="italic" fill="#222" text-anchor="middle" >clpV1</text>
<line x1="651.7" y1="715" x2="651.7" y2="722.5" stroke="#111" stroke-width="1.7" />
<text x="653.3000000000001" y="735" font-size="12" font-weight="normal" font-style="italic" fill="#222" text-anchor="middle" >icmF1</text>
<line x1="424" y1="563.9" x2="735" y2="563.9" stroke="#111" stroke-width="2" stroke-dasharray="2 3.1"/>
<line x1="577.8" y1="529" x2="577.8" y2="714" stroke="#111" stroke-width="2" stroke-dasharray="2 3.1"/>
<path d="M429.3,563.9 V642.174 H440.0 V563.9" fill="none" stroke="#7a7a7a" stroke-width="2.4" />
<rect x="429" y="611" width="11.5" height="32" fill="#7a7a7a" stroke="none" stroke-width="1" rx="0" />
<circle cx="434.5" cy="609" r="3" fill="#7a7a7a" stroke="none" stroke-width="1" />
<circle cx="434.5" cy="620" r="3" fill="#7a7a7a" stroke="none" stroke-width="1" />
<circle cx="434.5" cy="626" r="3" fill="#7a7a7a" stroke="none" stroke-width="1" />
<circle cx="434.5" cy="632" r="3" fill="#7a7a7a" stroke="none" stroke-width="1" />
<circle cx="434.5" cy="637" r="3" fill="#7a7a7a" stroke="none" stroke-width="1" />
<circle cx="432" cy="648" r="3" fill="#7a7a7a" stroke="none" stroke-width="1" />
<circle cx="437" cy="652" r="3" fill="#7a7a7a" stroke="none" stroke-width="1" />
<circle cx="434.5" cy="655" r="3" fill="#7a7a7a" stroke="none" stroke-width="1" />
<circle cx="434.5" cy="659" r="3" fill="#7a7a7a" stroke="none" stroke-width="1" />
<circle cx="431.5" cy="664.7" r="3" fill="#7a7a7a" stroke="none" stroke-width="1" />
<circle cx="437.5" cy="664.3" r="3" fill="#7a7a7a" stroke="none" stroke-width="1" />
<circle cx="434.5" cy="690.4" r="3" fill="#7a7a7a" stroke="none" stroke-width="1" />
<path d="M432.5,618.5 Q434.6,615.5 436.7,618.5" fill="none" stroke="#fff" stroke-width="0.9" />
<path d="M432.5,628.5 Q434.6,625.5 436.7,628.5" fill="none" stroke="#fff" stroke-width="0.9" />
<path d="M432.5,637.0 Q434.6,634.0 436.7,637.0" fill="none" stroke="#fff" stroke-width="0.9" />
<path d="M448.70000000000005,563.9 V597.0039999999999 H458.09999999999997 V563.9" fill="none" stroke="#2b3a9b" stroke-width="2.2" />
<line x1="453.3" y1="579.3" x2="453.3" y2="617.4" stroke="#2b3a9b" stroke-width="1" /><line x1="450.1" y1="579.3" x2="456.5" y2="579.3" stroke="#2b3a9b" stroke-width="1" /><line x1="450.1" y1="617.4" x2="456.5" y2="617.4" stroke="#2b3a9b" stroke-width="1" />
<circle cx="453.3" cy="561.2" r="2.8" fill="#2b3a9b" stroke="none" stroke-width="1" />
<circle cx="453.3" cy="607.2" r="2.8" fill="#2b3a9b" stroke="none" stroke-width="1" />
<circle cx="453.3" cy="626.1" r="2.8" fill="#2b3a9b" stroke="none" stroke-width="1" />
<rect x="464.7" y="560.2" width="12" height="4.2" fill="#27307f" stroke="none" stroke-width="1" rx="0" />
<line x1="470.5" y1="548.2" x2="470.5" y2="570.3" stroke="#27307f" stroke-width="1" /><line x1="467.3" y1="548.2" x2="473.7" y2="548.2" stroke="#27307f" stroke-width="1" /><line x1="467.3" y1="570.3" x2="473.7" y2="570.3" stroke="#27307f" stroke-width="1" />
<polygon points="468.30,541.40 469.09,543.51 471.34,543.61 469.58,545.02 470.18,547.19 468.30,545.94 466.42,547.19 467.02,545.02 465.26,543.61 467.51,543.51" fill="#27307f"/>
<polygon points="473.90,536.60 474.69,538.71 476.94,538.81 475.18,540.22 475.78,542.39 473.90,541.14 472.02,542.39 472.62,540.22 470.86,538.81 473.11,538.71" fill="#27307f"/>
<polygon points="470.50,564.10 471.29,566.21 473.54,566.31 471.78,567.72 472.38,569.89 470.50,568.64 468.62,569.89 469.22,567.72 467.46,566.31 469.71,566.21" fill="#27307f"/>
<polygon points="470.50,583.80 471.29,585.91 473.54,586.01 471.78,587.42 472.38,589.59 470.50,588.34 468.62,589.59 469.22,587.42 467.46,586.01 469.71,585.91" fill="#27307f"/>
<path d="M481.8,563.9 V584.429 H491.7 V563.9" fill="none" stroke="#3fb7b3" stroke-width="2.2" />
<rect x="483.4" y="567" width="6.6" height="12" fill="#3fb7b3" stroke="none" stroke-width="1" rx="0" />
<rect x="485" y="574.5" width="3.4" height="3.2" fill="#fff" stroke="none" stroke-width="1" rx="0" />
<rect x="485" y="579.8" width="3.4" height="3.0" fill="#fff" stroke="none" stroke-width="1" rx="0" />
<rect x="483.7" y="589.6999999999999" width="6.2" height="6.2" fill="#3fb7b3" stroke="none" stroke-width="1" rx="0" />
<rect x="483.7" y="595.8" width="6.2" height="6.2" fill="#3fb7b3" stroke="none" stroke-width="1" rx="0" />
<path d="M498.90000000000003,563.9 V585.435 H508.9 V563.9" fill="none" stroke="#e3a8cd" stroke-width="2.2" />
<line x1="504" y1="569.3" x2="504" y2="604" stroke="#e3a8cd" stroke-width="1" /><line x1="500.8" y1="569.3" x2="507.2" y2="569.3" stroke="#e3a8cd" stroke-width="1" /><line x1="500.8" y1="604" x2="507.2" y2="604" stroke="#e3a8cd" stroke-width="1" />
<polygon points="501.6,556.6999999999999 498.5,562.28 504.70000000000005,562.28" fill="#e3a8cd"/>
<polygon points="507,555.1 503.9,560.6800000000001 510.1,560.6800000000001" fill="#e3a8cd"/>
<polygon points="504,596.3 500.9,601.88 507.1,601.88" fill="#e3a8cd"/>
<polygon points="504,626.4 500.9,631.98 507.1,631.98" fill="#e3a8cd"/>
<rect x="516.5" y="561.6" width="11.5" height="4" fill="#8b6ab3" stroke="none" stroke-width="1" rx="0" />
<line x1="522" y1="555.2" x2="522" y2="574.7" stroke="#8b6ab3" stroke-width="1" /><line x1="518.8" y1="555.2" x2="525.2" y2="555.2" stroke="#8b6ab3" stroke-width="1" /><line x1="518.8" y1="574.7" x2="525.2" y2="574.7" stroke="#8b6ab3" stroke-width="1" />
<polygon points="522,545.3000000000001 518.9,539.72 525.1,539.72" fill="#8b6ab3"/>
<polygon points="522,568.4 518.9,562.8199999999999 525.1,562.8199999999999" fill="#8b6ab3"/>
<polygon points="522,590.8000000000001 518.9,585.22 525.1,585.22" fill="#8b6ab3"/>
<rect x="534" y="561.8" width="11.8" height="3.2" fill="#9276bd" stroke="none" stroke-width="1" rx="0" />
<line x1="540" y1="540.2" x2="540" y2="592.4" stroke="#9276bd" stroke-width="1" /><line x1="536.8" y1="540.2" x2="543.2" y2="540.2" stroke="#9276bd" stroke-width="1" /><line x1="536.8" y1="592.4" x2="543.2" y2="592.4" stroke="#9276bd" stroke-width="1" />
<polygon points="540,578.6999999999999 543.2,581.9 540,585.1 536.8,581.9" fill="#9276bd"/>
<polygon points="540,598.3 543.2,601.5 540,604.7 536.8,601.5" fill="#9276bd"/>
<path d="M553.2,563.9 V663.3 H562.8 V563.9" fill="none" stroke="#8f6fb8" stroke-width="2.4" />
<line x1="558" y1="650" x2="558" y2="680" stroke="#8f6fb8" stroke-width="1" /><line x1="554.8" y1="650" x2="561.2" y2="650" stroke="#8f6fb8" stroke-width="1" /><line x1="554.8" y1="680" x2="561.2" y2="680" stroke="#8f6fb8" stroke-width="1" />
<rect x="554.2" y="645.5" width="7.6" height="12.5" fill="#fff" stroke="none" stroke-width="1" rx="0" />
<line x1="555.1" y1="646.3000000000001" x2="560.9" y2="652.1" stroke="#8f6fb8" stroke-width="1.5" /><line x1="555.1" y1="652.1" x2="560.9" y2="646.3000000000001" stroke="#8f6fb8" stroke-width="1.5" />
<line x1="555.1" y1="652.1" x2="560.9" y2="657.9" stroke="#8f6fb8" stroke-width="1.5" /><line x1="555.1" y1="657.9" x2="560.9" y2="652.1" stroke="#8f6fb8" stroke-width="1.5" />
<line x1="555.1" y1="691.5" x2="560.9" y2="697.3" stroke="#8f6fb8" stroke-width="1.7" /><line x1="555.1" y1="697.3" x2="560.9" y2="691.5" stroke="#8f6fb8" stroke-width="1.7" />
<path d="M596.4000000000001,563.9 V626.078 H606.0999999999999 V563.9" fill="none" stroke="#7a7a7a" stroke-width="2.4" />
<rect x="596" y="616.5" width="10.5" height="10" fill="#7a7a7a" stroke="none" stroke-width="1" rx="0" />
<line x1="601.2" y1="622" x2="601.2" y2="631.3" stroke="#7a7a7a" stroke-width="1" /><line x1="598.0" y1="622" x2="604.4000000000001" y2="622" stroke="#7a7a7a" stroke-width="1" /><line x1="598.0" y1="631.3" x2="604.4000000000001" y2="631.3" stroke="#7a7a7a" stroke-width="1" />
<circle cx="601" cy="646.1" r="3" fill="#7a7a7a" stroke="none" stroke-width="1" />
<path d="M615.0,563.9 V582.4169999999999 H624.1999999999999 V563.9" fill="none" stroke="#2b3a9b" stroke-width="2.2" />
<line x1="619.6" y1="566" x2="619.6" y2="605" stroke="#2b3a9b" stroke-width="1" /><line x1="616.4" y1="566" x2="622.8000000000001" y2="566" stroke="#2b3a9b" stroke-width="1" /><line x1="616.4" y1="605" x2="622.8000000000001" y2="605" stroke="#2b3a9b" stroke-width="1" />
<circle cx="619.6" cy="543.8" r="2.8" fill="#2b3a9b" stroke="none" stroke-width="1" />
<circle cx="619.6" cy="594" r="2.8" fill="#2b3a9b" stroke="none" stroke-width="1" />
<circle cx="619.6" cy="614" r="2.8" fill="#2b3a9b" stroke="none" stroke-width="1" />
<path d="M632.5,563.9 V572.8599999999999 H641.9 V563.9" fill="none" stroke="#27307f" stroke-width="2.2" />
<line x1="637.2" y1="556.2" x2="637.2" y2="593.4" stroke="#27307f" stroke-width="1" /><line x1="634.0" y1="556.2" x2="640.4000000000001" y2="556.2" stroke="#27307f" stroke-width="1" /><line x1="634.0" y1="593.4" x2="640.4000000000001" y2="593.4" stroke="#27307f" stroke-width="1" />
<polygon points="637.20,522.60 637.97,524.65 640.15,524.74 638.44,526.10 639.02,528.21 637.20,527.00 635.38,528.21 635.96,526.10 634.25,524.74 636.43,524.65" fill="#27307f"/>
<polygon points="634.00,601.70 634.77,603.75 636.95,603.84 635.24,605.20 635.82,607.31 634.00,606.10 632.18,607.31 632.76,605.20 631.05,603.84 633.23,603.75" fill="#27307f"/>
<polygon points="639.80,597.70 640.57,599.75 642.75,599.84 641.04,601.20 641.62,603.31 639.80,602.10 637.98,603.31 638.56,601.20 636.85,599.84 639.03,599.75" fill="#27307f"/>
<polygon points="637.20,564.90 637.97,566.95 640.15,567.04 638.44,568.40 639.02,570.51 637.20,569.30 635.38,570.51 635.96,568.40 634.25,567.04 636.43,566.95" fill="#27307f"/>
<path d="M648.6,563.9 H659.9 V568.5 Q659.9,570.3 658,570.3 H655.5 V572.4 Q655.5,573.4 654.3,573.4 H649.8 Q648.6,573.4 648.6,572.4 Z" fill="#3fb7b3" stroke="none" stroke-width="1" />
<path d="M667.1,563.9 V579.9019999999999 H676.4 V563.9" fill="none" stroke="#e3a8cd" stroke-width="2.2" />
<line x1="671.8" y1="566" x2="671.8" y2="589.4" stroke="#e3a8cd" stroke-width="1" /><line x1="668.5999999999999" y1="566" x2="675.0" y2="566" stroke="#e3a8cd" stroke-width="1" /><line x1="668.5999999999999" y1="589.4" x2="675.0" y2="589.4" stroke="#e3a8cd" stroke-width="1" />
<polygon points="671.8,569.5 668.8,574.9 674.8,574.9" fill="#e3a8cd"/>
<polygon points="671.8,594.6 668.8,600.0 674.8,600.0" fill="#e3a8cd"/>
<rect x="683.6" y="563.9" width="11" height="4.6" fill="#8b6ab3" stroke="none" stroke-width="1" rx="0" />
<line x1="689" y1="549.8" x2="689" y2="587.3" stroke="#8b6ab3" stroke-width="1" /><line x1="685.8" y1="549.8" x2="692.2" y2="549.8" stroke="#8b6ab3" stroke-width="1" /><line x1="685.8" y1="587.3" x2="692.2" y2="587.3" stroke="#8b6ab3" stroke-width="1" />
<polygon points="689,537.6 685.9,532.02 692.1,532.02" fill="#8b6ab3"/>
<polygon points="689,571.4 685.9,565.8199999999999 692.1,565.8199999999999" fill="#8b6ab3"/>
<polygon points="689,602.5 685.9,596.92 692.1,596.92" fill="#8b6ab3"/>
<path d="M702.8000000000001,563.9 V575.8779999999999 H712.1999999999999 V563.9" fill="none" stroke="#9276bd" stroke-width="2.2" />
<line x1="707.4" y1="556.8" x2="707.4" y2="598.4" stroke="#9276bd" stroke-width="1" /><line x1="704.1999999999999" y1="556.8" x2="710.6" y2="556.8" stroke="#9276bd" stroke-width="1" /><line x1="704.1999999999999" y1="598.4" x2="710.6" y2="598.4" stroke="#9276bd" stroke-width="1" />
<polygon points="707.4,539.0 710.6,542.2 707.4,545.4000000000001 704.1999999999999,542.2" fill="#9276bd"/>
<polygon points="707.6,610.1999999999999 710.8000000000001,613.4 707.6,616.6 704.4,613.4" fill="#9276bd"/>
<path d="M720.5,563.9 V627.084 H730.1999999999999 V563.9" fill="none" stroke="#8f6fb8" stroke-width="2.4" />
<rect x="721.6" y="610" width="7.4" height="14" fill="#fff" stroke="none" stroke-width="1" rx="0" />
<line x1="722.4" y1="610.8000000000001" x2="728.1999999999999" y2="616.6" stroke="#8f6fb8" stroke-width="1.5" /><line x1="722.4" y1="616.6" x2="728.1999999999999" y2="610.8000000000001" stroke="#8f6fb8" stroke-width="1.5" />
<line x1="722.4" y1="617.6" x2="728.1999999999999" y2="623.4" stroke="#8f6fb8" stroke-width="1.5" /><line x1="722.4" y1="623.4" x2="728.1999999999999" y2="617.6" stroke="#8f6fb8" stroke-width="1.5" />
<line x1="722.5999999999999" y1="630.0999999999999" x2="728.0" y2="635.5" stroke="#8f6fb8" stroke-width="1.6" /><line x1="722.5999999999999" y1="635.5" x2="728.0" y2="630.0999999999999" stroke="#8f6fb8" stroke-width="1.6" />
<line x1="722.5999999999999" y1="635.8" x2="728.0" y2="641.2" stroke="#8f6fb8" stroke-width="1.6" /><line x1="722.5999999999999" y1="641.2" x2="728.0" y2="635.8" stroke="#8f6fb8" stroke-width="1.6" />
<circle cx="586.5" cy="666.4" r="3" fill="#7a7a7a" stroke="none" stroke-width="1" />
<text x="593.6" y="670.2" font-size="10.6" font-weight="normal" font-style="normal" fill="#7a7a7a" text-anchor="start" >WT</text>
<circle cx="586.5" cy="679.7" r="2.8" fill="#2b3a9b" stroke="none" stroke-width="1" />
<text x="593.6" y="683.4" font-size="10.6" font-weight="normal" font-style="normal" fill="#2b3a9b" text-anchor="start" >Δ<tspan font-style="italic">retS</tspan></text>
<polygon points="586.50,689.70 587.27,691.75 589.45,691.84 587.74,693.20 588.32,695.31 586.50,694.10 584.68,695.31 585.26,693.20 583.55,691.84 585.73,691.75" fill="#27307f"/>
<text x="593.6" y="696.6" font-size="10.6" font-weight="normal" font-style="normal" fill="#27307f" text-anchor="start" >RetS<tspan font-style="italic">(ΔDismed2)</tspan></text>
<rect x="583.8000000000001" y="703.1" width="5.8" height="5.8" fill="#3fb7b3" stroke="none" stroke-width="1" rx="0" />
<text x="593.6" y="709.8" font-size="10.6" font-weight="normal" font-style="normal" fill="#3fb7b3" text-anchor="start" >Δ<tspan font-style="italic">rsmY/Z</tspan></text>
<polygon points="676.2,658.4 673.2,663.8 679.2,663.8" fill="#e3a8cd"/>
<text x="684" y="665.2" font-size="10.6" font-weight="normal" font-style="normal" fill="#e3a8cd" text-anchor="start" >Δ<tspan font-style="italic">rsmA/F</tspan></text>
<polygon points="676.2,679.3 673.2,673.9 679.2,673.9" fill="#8b6ab3"/>
<text x="684" y="680" font-size="10.6" font-weight="normal" font-style="normal" fill="#8b6ab3" text-anchor="start" >Δ<tspan font-style="italic">gacS</tspan></text>
<polygon points="676.2,687.6 679.2,690.6 676.2,693.6 673.2,690.6" fill="#9276bd"/>
<text x="684" y="694.6" font-size="10.6" font-weight="normal" font-style="normal" fill="#9276bd" text-anchor="start" >Δ<tspan font-style="italic">rsmY/Z</tspan>+P<tspan font-size="6.3" dy="2.5">lacUV5</tspan><tspan dy="-2.5" font-style="italic">-rsmY</tspan></text>
<line x1="673.3000000000001" y1="703.1" x2="679.1" y2="708.9" stroke="#8f6fb8" stroke-width="1.7" /><line x1="673.3000000000001" y1="708.9" x2="679.1" y2="703.1" stroke="#8f6fb8" stroke-width="1.7" />
<text x="684" y="709.8" font-size="10.6" font-weight="normal" font-style="normal" fill="#8f6fb8" text-anchor="start" >Δ<tspan font-style="italic">rsmY/Z</tspan>+P<tspan font-size="6.3" dy="2.5" font-style="italic">rsmY</tspan><tspan dy="-2.5" font-style="italic">-rsmY</tspan></text>
</g>
</svg>
</body></html>
